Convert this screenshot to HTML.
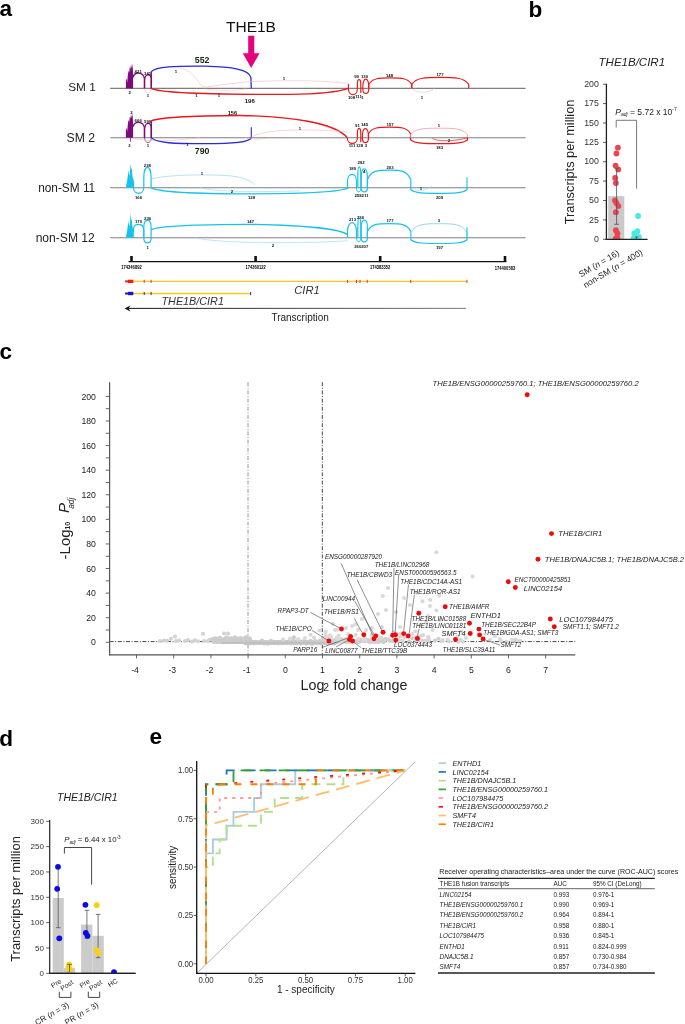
<!DOCTYPE html>
<html><head><meta charset="utf-8"><title>Figure</title><style>
html,body{margin:0;padding:0;background:#fff;}
svg{display:block;will-change:transform;}
text{font-family:"Liberation Sans",sans-serif;}
</style></head><body>
<svg width="685" height="1024" viewBox="0 0 685 1024">
<rect width="685" height="1024" fill="#fff"/>
<text x="-0.4" y="16.4" font-size="22.6" font-weight="bold" fill="#000">a</text>
<text x="528.6" y="16.5" font-size="22.6" font-weight="bold" fill="#000">b</text>
<text x="-0.6" y="358.7" font-size="22.6" font-weight="bold" fill="#000">c</text>
<text x="-0.7" y="745.6" font-size="22.6" font-weight="bold" fill="#000">d</text>
<text x="149.6" y="743.5" font-size="22.6" font-weight="bold" fill="#000">e</text>
<text x="226.0" y="31.8" font-size="15.5" fill="#111">THE1B</text>
<polygon points="248.2,35.8 254.3,35.8 254.3,53.3 259.6,53.3 251.2,67.9 242.8,53.3 248.2,53.3" fill="#e2057d"/>
<text x="95.8" y="91.3" font-size="11.8" text-anchor="end" fill="#222">SM 1</text>
<text x="95.0" y="142.3" font-size="12.2" text-anchor="end" fill="#222">SM 2</text>
<text x="95.2" y="191.5" font-size="11.85" text-anchor="end" fill="#222">non-SM 11</text>
<text x="94.8" y="242.3" font-size="12.1" text-anchor="end" fill="#222">non-SM 12</text>
<line x1="110.2" y1="88.4" x2="525.6" y2="88.4" stroke="#7f7f7f" stroke-width="1.1"/>
<line x1="110.2" y1="137.7" x2="525.6" y2="137.7" stroke="#7f7f7f" stroke-width="1.1"/>
<line x1="110.2" y1="187.8" x2="525.6" y2="187.8" stroke="#7f7f7f" stroke-width="1.1"/>
<line x1="110.2" y1="237.7" x2="525.6" y2="237.7" stroke="#7f7f7f" stroke-width="1.1"/>
<polygon points="125.9,88.4 125.9,80.4 126.5,78.4 127.2,82.4 127.8,75.4 128.6,70.4 129.3,72.4 129.8,66.4 130.4,69.4 131.0,63.9 131.8,68.4 132.4,63.2 132.9,70.4 133.1,76.4 133.1,88.4" fill="#7d0a7d"/>
<path d="M133.1,77.4 C134.3,71.4 143.2,71.4 144.4,78.4 L144.4,88.4" stroke="#7d0a7d" stroke-width="1.3" fill="none"/>
<path d="M144.6,88.4 L144.6,79.4 C145.4,73.4 150.5,73.4 151.3,78.4 L151.3,88.4" stroke="#7d0a7d" stroke-width="1.3" fill="none"/>
<path d="M144.6,88.4 C144.6,94.4 151.3,94.4 151.3,88.4" stroke="#f7b9b9" stroke-width="0.6" fill="none"/>
<line x1="151.3" y1="71.2" x2="151.3" y2="88.4" stroke="#7d0a7d" stroke-width="1.3"/>
<path d="M151.3,71.60000000000001 C156,66.4 175,66.0 205,66.2 C232,66.9 249,69.4 250.9,77.4 L251.3,88.4" stroke="#2a2ad8" stroke-width="1.3" fill="none"/>
<path d="M151.3,88.4 C160,93.4 230,94.60000000000001 290,94.4 C320,94.0 340,91.4 348.4,88.4" stroke="#e8191c" stroke-width="1.3" fill="none"/>
<path d="M178,67.9 C190,68.4 196,78.4 201,85.4 C203,87.4 206,87.2 210,86.4 C225,84.4 240,82.4 251,81.60000000000001 C280,80.4 320,79.9 348.4,83.4" stroke="#f7b9b9" stroke-width="0.6" fill="none"/>
<path d="M205,88.9 C215,90.9 235,90.9 246,88.9" stroke="#f7b9b9" stroke-width="0.5" fill="none"/>
<line x1="348.4" y1="88.4" x2="348.4" y2="83.9" stroke="#e8191c" stroke-width="1.1"/>
<path d="M348.4,88.4 C348.4,96.60000000000001 357.4,96.60000000000001 357.4,88.4" stroke="#e8191c" stroke-width="1.2" fill="none"/>
<path d="M357.4,88.4 L357.4,84.4 C357.4,77.9 360.8,77.9 360.8,84.4 L360.8,92.9" stroke="#e8191c" stroke-width="1.2" fill="none"/>
<path d="M362.8,88.4 C362.8,75.9 368.8,75.9 368.8,88.4 C368.8,95.10000000000001 362.8,95.10000000000001 362.8,88.4" stroke="#e8191c" stroke-width="1.2" fill="none"/>
<path d="M368.8,88.4 L368.8,84.4 C372.2,77.9 379.5,77.9 390.2,77.9 C401.0,77.9 408.3,77.9 411.7,84.4 L411.7,88.4" stroke="#e8191c" stroke-width="1.2" fill="none"/>
<path d="M411.7,88.4 L411.7,84.4 C416.3,77.4 425.9,77.4 440.2,77.4 C454.4,77.4 464.1,77.4 468.7,84.4 L468.7,88.4" stroke="#e8191c" stroke-width="1.2" fill="none"/>
<path d="M411.7,88.4 C414,93.4 430,93.4 434,88.4" stroke="#f7b9b9" stroke-width="0.6" fill="none"/>
<text x="138.2" y="72.60000000000001" font-size="4.3" text-anchor="middle" fill="#111" font-weight="bold">421</text>
<text x="147.6" y="74.60000000000001" font-size="4.3" text-anchor="middle" fill="#111" font-weight="bold">341</text>
<text x="129.8" y="93.9" font-size="4.3" text-anchor="middle" fill="#111" font-weight="bold">2</text>
<text x="148" y="97.10000000000001" font-size="4.3" text-anchor="middle" fill="#111" font-weight="bold">1</text>
<text x="194.8" y="63.4" font-size="8.8" font-weight="bold" fill="#142414">552</text>
<text x="249.8" y="102.60000000000001" font-size="6" text-anchor="middle" fill="#111" font-weight="bold">196</text>
<text x="176" y="72.60000000000001" font-size="4.3" text-anchor="middle" fill="#111" font-weight="bold">1</text>
<text x="284" y="79.60000000000001" font-size="4.3" text-anchor="middle" fill="#111" font-weight="bold">1</text>
<text x="196.5" y="97.10000000000001" font-size="4.3" text-anchor="middle" fill="#111" font-weight="bold">1</text>
<text x="219" y="97.10000000000001" font-size="4.3" text-anchor="middle" fill="#111" font-weight="bold">1</text>
<text x="356.6" y="78.10000000000001" font-size="4.3" text-anchor="middle" fill="#111" font-weight="bold">99</text>
<text x="364.5" y="77.60000000000001" font-size="4.3" text-anchor="middle" fill="#111" font-weight="bold">130</text>
<text x="351.5" y="98.60000000000001" font-size="4.3" text-anchor="middle" fill="#111" font-weight="bold">108</text>
<text x="358.5" y="98.10000000000001" font-size="4.3" text-anchor="middle" fill="#111" font-weight="bold">111</text>
<text x="362.5" y="98.60000000000001" font-size="4.3" text-anchor="middle" fill="#111" font-weight="bold">1</text>
<text x="389.5" y="77.10000000000001" font-size="4.3" text-anchor="middle" fill="#111" font-weight="bold">148</text>
<text x="440" y="76.10000000000001" font-size="4.3" text-anchor="middle" fill="#111" font-weight="bold">177</text>
<text x="422" y="98.60000000000001" font-size="4.3" text-anchor="middle" fill="#111" font-weight="bold">1</text>
<polygon points="125.9,137.7 125.9,129.7 126.5,127.7 127.2,131.7 127.8,124.7 128.6,119.7 129.3,121.7 129.8,116.7 130.4,118.7 131.0,114.2 131.8,117.7 132.4,113.2 132.9,119.7 133.1,125.7 133.1,137.7" fill="#7d0a7d"/>
<line x1="130.5" y1="137.7" x2="130.5" y2="141.7" stroke="#7d0a7d" stroke-width="0.8"/>
<path d="M133.1,126.69999999999999 C134.3,120.69999999999999 143.2,120.69999999999999 144.4,127.69999999999999 L144.4,137.7" stroke="#7d0a7d" stroke-width="1.3" fill="none"/>
<path d="M144.6,137.7 L144.6,128.7 C145.4,121.69999999999999 150.5,121.69999999999999 151.3,127.69999999999999 L151.3,137.7" stroke="#7d0a7d" stroke-width="1.3" fill="none"/>
<path d="M144.6,137.7 C144.6,144.2 151.3,144.2 151.3,137.7" stroke="#7d0a7d" stroke-width="0.7" fill="none"/>
<path d="M133.1,137.7 C140,141.7 170,141.7 200,137.7" stroke="#f7b9b9" stroke-width="0.6" fill="none"/>
<line x1="151.3" y1="120.49999999999999" x2="151.3" y2="137.7" stroke="#7d0a7d" stroke-width="1.3"/>
<path d="M151.3,120.89999999999999 C160,116.89999999999999 200,115.69999999999999 240,115.49999999999999 C290,116.19999999999999 335,122.69999999999999 347.3,137.7" stroke="#e8191c" stroke-width="1.3" fill="none"/>
<path d="M151.3,137.7 C156,143.2 175,143.7 205,143.7 C235,143.7 249,142.2 251.3,137.7" stroke="#2a2ad8" stroke-width="1.3" fill="none"/>
<line x1="251.3" y1="137.7" x2="251.3" y2="127.19999999999999" stroke="#2a2ad8" stroke-width="1.1"/>
<path d="M251.3,137.7 C260,129.7 300,128.2 347.3,131.7" stroke="#f7b9b9" stroke-width="0.6" fill="none"/>
<path d="M245,137.7 C252,139.7 260,139.7 270,137.7" stroke="#f7b9b9" stroke-width="0.5" fill="none"/>
<path d="M347.3,137.7 C347.3,145.39999999999998 357.4,145.39999999999998 357.4,137.7" stroke="#e8191c" stroke-width="1.2" fill="none"/>
<path d="M357.4,137.7 L357.4,133.7 C357.4,126.69999999999999 360.8,126.69999999999999 360.8,133.7 L360.8,142.2" stroke="#e8191c" stroke-width="1.2" fill="none"/>
<path d="M362.3,137.7 C362.3,125.69999999999999 368.5,125.69999999999999 368.5,137.7 C368.5,144.2 362.3,144.2 362.3,137.7" stroke="#e8191c" stroke-width="1.2" fill="none"/>
<path d="M368.5,137.7 L368.5,133.7 C371.9,127.2 379.0,127.2 389.5,127.2 C400.0,127.2 407.1,127.2 410.5,133.7 L410.5,137.7" stroke="#e8191c" stroke-width="1.2" fill="none"/>
<path d="M410.5,137.7 L410.5,134.7 C415.1,128.2 424.8,128.2 439.0,128.2 C453.2,128.2 462.9,128.2 467.5,134.7 L467.5,137.7" stroke="#f19a9a" stroke-width="0.8" fill="none"/>
<path d="M410.5,137.7 L410.5,139.7 C415.1,143.7 424.8,143.7 439.0,143.7 C453.2,143.7 462.9,143.7 467.5,139.7 L467.5,137.7" stroke="#e8191c" stroke-width="1.2" fill="none"/>
<path d="M432,137.7 C434,141.7 455,141.7 467.5,137.7" stroke="#e8191c" stroke-width="0.7" fill="none"/>
<text x="138.2" y="122.1" font-size="4.3" text-anchor="middle" fill="#111" font-weight="bold">666</text>
<text x="147.6" y="122.89999999999999" font-size="4.3" text-anchor="middle" fill="#111" font-weight="bold">590</text>
<text x="131.5" y="113.89999999999999" font-size="4.3" text-anchor="middle" fill="#111" font-weight="bold">2</text>
<text x="129.5" y="146.89999999999998" font-size="4.3" text-anchor="middle" fill="#111" font-weight="bold">2</text>
<text x="148" y="147.39999999999998" font-size="4.3" text-anchor="middle" fill="#111" font-weight="bold">1</text>
<text x="194.8" y="153.9" font-size="8.8" font-weight="bold" fill="#142414">790</text>
<text x="232.4" y="114.60000000000001" font-size="5.5" text-anchor="middle" fill="#111" font-weight="bold">156</text>
<text x="187.5" y="145.89999999999998" font-size="4.3" text-anchor="middle" fill="#111" font-weight="bold">1</text>
<text x="300" y="129.89999999999998" font-size="4.3" text-anchor="middle" fill="#111" font-weight="bold">1</text>
<text x="357.5" y="127.39999999999999" font-size="4.3" text-anchor="middle" fill="#111" font-weight="bold">91</text>
<text x="364.5" y="126.39999999999999" font-size="4.3" text-anchor="middle" fill="#111" font-weight="bold">145</text>
<text x="352" y="147.39999999999998" font-size="4.3" text-anchor="middle" fill="#111" font-weight="bold">111</text>
<text x="359.5" y="147.39999999999998" font-size="4.3" text-anchor="middle" fill="#111" font-weight="bold">128</text>
<text x="366" y="147.39999999999998" font-size="4.3" text-anchor="middle" fill="#111" font-weight="bold">3</text>
<text x="390" y="126.39999999999999" font-size="4.3" text-anchor="middle" fill="#111" font-weight="bold">157</text>
<text x="439" y="127.39999999999999" font-size="4.3" text-anchor="middle" fill="#111" font-weight="bold">1</text>
<text x="439.5" y="148.89999999999998" font-size="4.3" text-anchor="middle" fill="#111" font-weight="bold">183</text>
<text x="449" y="142.39999999999998" font-size="4.3" text-anchor="middle" fill="#111" font-weight="bold">2</text>
<polygon points="126.1,187.8 126.1,185.8 127.0,181.8 127.8,175.8 128.5,170.3 129.2,175.8 129.8,173.8 130.6,163.3 131.2,169.8 131.8,167.8 132.4,175.8 133.0,178.3 133.8,180.8 133.8,187.8" fill="#17c3ee"/>
<path d="M133.5,181.8 L133.5,187.8 C133.5,195.10000000000002 143.8,195.10000000000002 143.8,187.8" stroke="#17c3ee" stroke-width="1.2" fill="none"/>
<path d="M143.8,187.8 L143.8,177.8 C143.8,163.8 151.1,163.8 151.1,177.8 L151.1,187.8" stroke="#17c3ee" stroke-width="1.2" fill="none"/>
<path d="M151.5,179.3 C160,175.3 200,173.8 230,175.8 C245,177.3 252,181.8 254.5,184.8" stroke="#9fdcf2" stroke-width="0.8" fill="none"/>
<path d="M151.1,187.8 C160,192.3 200,193.8 250,193.8 C300,193.8 340,192.8 348.5,187.8" stroke="#17c3ee" stroke-width="1.3" fill="none"/>
<path d="M200,187.8 C215,191.8 260,192.3 300,190.8" stroke="#9fdcf2" stroke-width="0.7" fill="none"/>
<path d="M347.5,187.8 L347.5,181.8 C347.5,171.8 356.5,171.8 356.5,181.8 L356.5,187.8" stroke="#17c3ee" stroke-width="1.2" fill="none"/>
<path d="M357.8,187.8 L357.8,175.8 C357.8,163.8 360.8,163.8 360.8,175.8 L360.8,187.8" stroke="#17c3ee" stroke-width="1.2" fill="none"/>
<path d="M361.2,187.8 L361.2,177.8 C361.2,165.8 367.4,165.8 367.4,177.8 L367.4,187.8 C367.4,193.3 361.2,193.3 361.2,187.8" stroke="#17c3ee" stroke-width="1.2" fill="none"/>
<path d="M356.5,187.8 C356.5,193.3 360.8,193.3 360.8,187.8" stroke="#17c3ee" stroke-width="1.0" fill="none"/>
<path d="M367.4,187.8 L367.4,179.8 C370.9,170.2 378.2,170.2 389.1,170.2 C399.9,170.2 407.3,170.2 410.8,179.8 L410.8,187.8" stroke="#17c3ee" stroke-width="1.2" fill="none"/>
<path d="M410.8,187.8 L410.8,189.8 C415.3,193.4 424.9,193.4 438.9,193.4 C452.9,193.4 462.5,193.4 467,189.8 L467,187.8" stroke="#17c3ee" stroke-width="1.2" fill="none"/>
<line x1="467" y1="187.8" x2="467" y2="177.3" stroke="#17c3ee" stroke-width="1.1"/>
<path d="M415,189.8 C420,191.8 428,189.8 432,185.8" stroke="#9fdcf2" stroke-width="0.6" fill="none"/>
<text x="138.5" y="198.5" font-size="4.3" text-anchor="middle" fill="#111" font-weight="bold">166</text>
<text x="147.4" y="166.5" font-size="4.3" text-anchor="middle" fill="#111" font-weight="bold">238</text>
<text x="202" y="175.0" font-size="4.3" text-anchor="middle" fill="#111" font-weight="bold">1</text>
<text x="232" y="193.0" font-size="4.3" text-anchor="middle" fill="#111" font-weight="bold">2</text>
<text x="251.5" y="199.0" font-size="4.3" text-anchor="middle" fill="#111" font-weight="bold">128</text>
<text x="352.5" y="169.5" font-size="4.3" text-anchor="middle" fill="#111" font-weight="bold">189</text>
<text x="361" y="163.5" font-size="4.3" text-anchor="middle" fill="#111" font-weight="bold">292</text>
<text x="364.3" y="172.5" font-size="4.3" text-anchor="middle" fill="#111" font-weight="bold">4</text>
<text x="358" y="197.0" font-size="4.3" text-anchor="middle" fill="#111" font-weight="bold">258</text>
<text x="365" y="197.0" font-size="4.3" text-anchor="middle" fill="#111" font-weight="bold">211</text>
<text x="390" y="169.0" font-size="4.3" text-anchor="middle" fill="#111" font-weight="bold">203</text>
<text x="421" y="189.5" font-size="4.3" text-anchor="middle" fill="#111" font-weight="bold">1</text>
<text x="439.5" y="199.0" font-size="4.3" text-anchor="middle" fill="#111" font-weight="bold">209</text>
<polygon points="126.1,237.7 126.1,235.7 127.0,231.7 127.8,225.7 128.5,220.7 129.2,226.7 129.8,224.7 130.6,213.2 131.2,220.7 131.8,218.7 132.4,226.7 133.0,228.7 133.8,231.7 133.8,237.7" fill="#17c3ee"/>
<path d="M133.5,231.7 L133.5,228.7 C134,222.7 143.3,222.7 143.8,229.7 L143.8,237.7" stroke="#17c3ee" stroke-width="1.2" fill="none"/>
<path d="M143.8,237.7 L143.8,227.7 C143.8,217.7 151.1,217.7 151.1,227.7 L151.1,237.7 C151.1,244.7 143.8,244.7 143.8,237.7" stroke="#17c3ee" stroke-width="1.2" fill="none"/>
<path d="M151.1,229.7 C160,225.7 200,224.5 250,224.39999999999998 C300,225.2 340,228.7 347.5,234.7" stroke="#17c3ee" stroke-width="1.3" fill="none"/>
<path d="M195,237.7 C215,243.2 300,244.2 347.5,240.7" stroke="#9fdcf2" stroke-width="0.7" fill="none"/>
<path d="M347.5,237.7 L347.5,231.7 C347.5,219.7 356.5,219.7 356.5,231.7 L356.5,237.7" stroke="#17c3ee" stroke-width="1.2" fill="none"/>
<path d="M357.8,237.7 L357.8,227.7 C357.8,214.7 360.8,214.7 360.8,227.7 L360.8,237.7" stroke="#17c3ee" stroke-width="1.2" fill="none"/>
<path d="M361.2,237.7 L361.2,227.7 C361.2,217.7 367.4,217.7 367.4,227.7 L367.4,237.7 C367.4,243.2 361.2,243.2 361.2,237.7" stroke="#17c3ee" stroke-width="1.2" fill="none"/>
<path d="M356.5,237.7 C356.5,243.2 360.8,243.2 360.8,237.7" stroke="#17c3ee" stroke-width="1.0" fill="none"/>
<path d="M367.4,237.7 L367.4,231.7 C370.9,223.7 378.2,223.7 389.1,223.7 C399.9,223.7 407.3,223.7 410.8,231.7 L410.8,237.7" stroke="#17c3ee" stroke-width="1.2" fill="none"/>
<path d="M410.8,237.7 L410.8,232.7 C415.3,223.7 424.9,223.7 438.9,223.7 C452.9,223.7 462.5,223.7 467,232.7 L467,237.7" stroke="#86d3ee" stroke-width="0.9" fill="none"/>
<path d="M410.8,237.7 L410.8,239.7 C415.3,243.5 424.9,243.5 438.9,243.5 C452.9,243.5 462.5,243.5 467,239.7 L467,237.7" stroke="#17c3ee" stroke-width="1.2" fill="none"/>
<line x1="467" y1="237.7" x2="467" y2="227.2" stroke="#17c3ee" stroke-width="1.1"/>
<text x="138.5" y="222.89999999999998" font-size="4.3" text-anchor="middle" fill="#111" font-weight="bold">170</text>
<text x="147.6" y="219.89999999999998" font-size="4.3" text-anchor="middle" fill="#111" font-weight="bold">236</text>
<text x="147.6" y="248.89999999999998" font-size="4.3" text-anchor="middle" fill="#111" font-weight="bold">1</text>
<text x="250.5" y="222.89999999999998" font-size="4.3" text-anchor="middle" fill="#111" font-weight="bold">147</text>
<text x="273" y="246.89999999999998" font-size="4.3" text-anchor="middle" fill="#111" font-weight="bold">2</text>
<text x="352.5" y="220.89999999999998" font-size="4.3" text-anchor="middle" fill="#111" font-weight="bold">213</text>
<text x="360.5" y="219.39999999999998" font-size="4.3" text-anchor="middle" fill="#111" font-weight="bold">236</text>
<text x="357.8" y="247.89999999999998" font-size="4.3" text-anchor="middle" fill="#111" font-weight="bold">260</text>
<text x="364.8" y="247.89999999999998" font-size="4.3" text-anchor="middle" fill="#111" font-weight="bold">207</text>
<text x="390" y="222.39999999999998" font-size="4.3" text-anchor="middle" fill="#111" font-weight="bold">177</text>
<text x="439" y="221.89999999999998" font-size="4.3" text-anchor="middle" fill="#111" font-weight="bold">3</text>
<text x="439.5" y="248.89999999999998" font-size="4.3" text-anchor="middle" fill="#111" font-weight="bold">197</text>
<line x1="128.5" y1="261.7" x2="506.4" y2="261.7" stroke="#111" stroke-width="1.2"/>
<rect x="130.2" y="256" width="2.6" height="5.7" fill="#111"/>
<text x="131.5" y="269.0" font-size="4.9" text-anchor="middle" fill="#000" font-weight="bold" textLength="20.3" lengthAdjust="spacingAndGlyphs">174346892</text>
<rect x="254.29999999999998" y="256" width="2.6" height="5.7" fill="#111"/>
<text x="255.6" y="269.0" font-size="4.9" text-anchor="middle" fill="#000" font-weight="bold" textLength="20.3" lengthAdjust="spacingAndGlyphs">174360122</text>
<rect x="378.9" y="256" width="2.6" height="5.7" fill="#111"/>
<text x="380.2" y="268.7" font-size="4.9" text-anchor="middle" fill="#000" font-weight="bold" textLength="20.3" lengthAdjust="spacingAndGlyphs">174383352</text>
<rect x="503.7" y="256" width="2.6" height="5.7" fill="#111"/>
<text x="505" y="270.0" font-size="4.9" text-anchor="middle" fill="#000" font-weight="bold" textLength="20.3" lengthAdjust="spacingAndGlyphs">174400583</text>
<line x1="133" y1="281.4" x2="467" y2="281.4" stroke="#f7c81e" stroke-width="1.3"/>
<rect x="125.1" y="280.4" width="3.2" height="2" fill="#ee1c1c"/><rect x="128" y="279.7" width="5.3" height="3.4" fill="#ee1c1c"/>
<rect x="143.75" y="279.8" width="0.9" height="3.2" fill="#ee1c1c"/>
<rect x="150.65" y="279.8" width="0.9" height="3.2" fill="#ee1c1c"/>
<rect x="347.15000000000003" y="279.8" width="0.9" height="3.2" fill="#ee1c1c"/>
<rect x="355.95" y="279.8" width="0.9" height="3.2" fill="#ee1c1c"/>
<rect x="359.55" y="279.8" width="0.9" height="3.2" fill="#ee1c1c"/>
<rect x="366.75" y="279.8" width="0.9" height="3.2" fill="#ee1c1c"/>
<rect x="410.25" y="279.8" width="0.9" height="3.2" fill="#ee1c1c"/>
<rect x="466.55" y="279.8" width="0.9" height="3.2" fill="#ee1c1c"/>
<line x1="133" y1="293.5" x2="250.7" y2="293.5" stroke="#f7c81e" stroke-width="1.3"/>
<rect x="125.1" y="292.5" width="3.2" height="2" fill="#1515c8"/><rect x="128" y="291.8" width="5.3" height="3.4" fill="#1515c8"/>
<rect x="143.75" y="291.9" width="0.9" height="3.2" fill="#1515c8"/>
<rect x="150.65" y="291.9" width="0.9" height="3.2" fill="#1515c8"/>
<rect x="250.25" y="291.9" width="0.9" height="3.2" fill="#1515c8"/>
<text x="294.2" y="294.0" font-size="11.2" font-style="italic" fill="#333">CIR1</text>
<text x="161.5" y="305.2" font-size="10.8" font-style="italic" fill="#333">THE1B/CIR1</text>
<defs><linearGradient id="ag" x1="0" x2="1" y1="0" y2="0"><stop offset="0" stop-color="#2a2424"/><stop offset="1" stop-color="#8a8686"/></linearGradient></defs><rect x="127" y="307.85" width="339.2" height="1.1" fill="url(#ag)"/>
<polygon points="124.6,308.4 130.3,305.4 128.7,308.4 130.3,311.4" fill="#1a1515"/>
<text x="271.4" y="321.4" font-size="10" fill="#222">Transcription</text>
<text x="598.6" y="66.0" font-size="11.5" font-style="italic" fill="#222">THE1B/CIR1</text>
<rect x="608.2" y="196.1" width="16.1" height="43.2" fill="#c9c9c9"/>
<line x1="603" y1="239.3" x2="606.4" y2="239.3" stroke="#333" stroke-width="0.8"/>
<text x="598.9" y="241.9" font-size="8.8" text-anchor="end" fill="#333">0</text>
<line x1="603" y1="219.91250000000002" x2="606.4" y2="219.91250000000002" stroke="#333" stroke-width="0.8"/>
<text x="598.9" y="222.51250000000002" font-size="8.8" text-anchor="end" fill="#333">25</text>
<line x1="603" y1="200.525" x2="606.4" y2="200.525" stroke="#333" stroke-width="0.8"/>
<text x="598.9" y="203.125" font-size="8.8" text-anchor="end" fill="#333">50</text>
<line x1="603" y1="181.13750000000002" x2="606.4" y2="181.13750000000002" stroke="#333" stroke-width="0.8"/>
<text x="598.9" y="183.7375" font-size="8.8" text-anchor="end" fill="#333">75</text>
<line x1="603" y1="161.75" x2="606.4" y2="161.75" stroke="#333" stroke-width="0.8"/>
<text x="598.9" y="164.35" font-size="8.8" text-anchor="end" fill="#333">100</text>
<line x1="603" y1="142.3625" x2="606.4" y2="142.3625" stroke="#333" stroke-width="0.8"/>
<text x="598.9" y="144.9625" font-size="8.8" text-anchor="end" fill="#333">125</text>
<line x1="603" y1="122.97500000000002" x2="606.4" y2="122.97500000000002" stroke="#333" stroke-width="0.8"/>
<text x="598.9" y="125.57500000000002" font-size="8.8" text-anchor="end" fill="#333">150</text>
<line x1="603" y1="103.5875" x2="606.4" y2="103.5875" stroke="#333" stroke-width="0.8"/>
<text x="598.9" y="106.1875" font-size="8.8" text-anchor="end" fill="#333">175</text>
<line x1="603" y1="84.20000000000002" x2="606.4" y2="84.20000000000002" stroke="#333" stroke-width="0.8"/>
<text x="598.9" y="86.80000000000001" font-size="8.8" text-anchor="end" fill="#333">200</text>
<text transform="translate(574.1,161.9) rotate(-90)" text-anchor="middle" font-size="12.8" fill="#222">Transcripts per million</text>
<defs><clipPath id="cpb"><rect x="600" y="80" width="60" height="159.3"/></clipPath></defs><g clip-path="url(#cpb)">
<circle cx="617.9" cy="147.7" r="2.9" fill="#ee4450"/>
<circle cx="616.4" cy="153.5" r="2.9" fill="#ee4450"/>
<circle cx="615.6" cy="165.6" r="2.9" fill="#ee4450"/>
<circle cx="618.2" cy="169.4" r="2.9" fill="#ee4450"/>
<circle cx="615.2" cy="177.9" r="2.9" fill="#ee4450"/>
<circle cx="615.9" cy="183.0" r="2.9" fill="#ee4450"/>
<circle cx="614.9" cy="200.5" r="2.9" fill="#ee4450"/>
<circle cx="616.4" cy="203.0" r="2.9" fill="#ee4450"/>
<circle cx="618.4" cy="206.1" r="2.9" fill="#ee4450"/>
<circle cx="615.9" cy="212.2" r="2.9" fill="#ee4450"/>
<circle cx="615.9" cy="230.2" r="2.9" fill="#ee4450"/>
<circle cx="617.4" cy="233.4" r="2.9" fill="#ee4450"/>
<circle cx="616.9" cy="237.3" r="2.9" fill="#ee4450"/>
<circle cx="615.5" cy="238.8" r="2.9" fill="#ee4450"/>
<circle cx="617.5" cy="239.0" r="2.9" fill="#ee4450"/>
<circle cx="638.1" cy="216.0" r="2.9" fill="#46eae3"/>
<circle cx="637.4" cy="231.2" r="2.9" fill="#46eae3"/>
<circle cx="634.3" cy="233.4" r="2.9" fill="#46eae3"/>
<circle cx="638.9" cy="236.8" r="2.9" fill="#46eae3"/>
<circle cx="635.9" cy="237.3" r="2.9" fill="#46eae3"/>
<circle cx="633.5" cy="238.5" r="2.9" fill="#46eae3"/>
<circle cx="637.0" cy="238.8" r="2.9" fill="#46eae3"/>
</g>
<line x1="606.4" y1="83.8" x2="606.4" y2="239.9" stroke="#222" stroke-width="1.3"/>
<line x1="605.8" y1="239.3" x2="647.6" y2="239.3" stroke="#222" stroke-width="1.3"/>
<line x1="636.5" y1="237.0" x2="636.5" y2="239.3" stroke="#555" stroke-width="0.85"/>
<line x1="634.8" y1="237.0" x2="638.2" y2="237.0" stroke="#555" stroke-width="0.85"/>
<line x1="616.6" y1="168.2" x2="616.6" y2="224.3" stroke="#555" stroke-width="0.85"/>
<line x1="614.3" y1="168.2" x2="618.9" y2="168.2" stroke="#555" stroke-width="0.85"/>
<line x1="614.3" y1="224.3" x2="618.9" y2="224.3" stroke="#555" stroke-width="0.85"/>
<path d="M616.2,127.6 L616.2,120.3 L636.6,120.3 L636.6,188.7" stroke="#6b6b6b" stroke-width="0.9" fill="none"/>
<text x="615.3" y="114.8" font-size="8.5" fill="#222"><tspan font-style="italic">P</tspan><tspan font-size="5" font-style="italic" dy="1.6">adj</tspan><tspan dy="-1.6"> = 5.72 x 10</tspan><tspan font-size="5" dy="-3.8">-7</tspan></text>
<text transform="translate(619.9,254.6) rotate(-30.5)" text-anchor="end" font-size="8.6" fill="#222">SM (<tspan font-style="italic">n</tspan> = 16)</text>
<text transform="translate(643.3,254.1) rotate(-30.5)" text-anchor="end" font-size="8.6" fill="#222">non-SM (<tspan font-style="italic">n</tspan> = 400)</text>
<line x1="248.0" y1="382.2" x2="248.0" y2="654.8" stroke="#8a8a8a" stroke-width="0.9" stroke-dasharray="4,1.6,1,1.6"/>
<line x1="322.3" y1="382.2" x2="322.3" y2="654.8" stroke="#333" stroke-width="0.9" stroke-dasharray="4,1.6,1,1.6"/>
<line x1="109.6" y1="641.6" x2="575.3" y2="641.6" stroke="#333" stroke-width="0.9" stroke-dasharray="4,1.6,1,1.6"/>
<circle cx="160.0" cy="641.0" r="2.05" fill="#d2d2d2"/>
<circle cx="164.0" cy="640.5" r="2.05" fill="#d2d2d2"/>
<circle cx="167.0" cy="640.8" r="2.05" fill="#d2d2d2"/>
<circle cx="171.0" cy="638.8" r="2.05" fill="#d2d2d2"/>
<circle cx="175.0" cy="636.5" r="2.05" fill="#d2d2d2"/>
<circle cx="176.0" cy="641.0" r="2.05" fill="#d2d2d2"/>
<circle cx="179.0" cy="640.2" r="2.05" fill="#d2d2d2"/>
<circle cx="185.0" cy="641.0" r="2.05" fill="#d2d2d2"/>
<circle cx="188.0" cy="640.0" r="2.05" fill="#d2d2d2"/>
<circle cx="192.0" cy="641.5" r="2.05" fill="#d2d2d2"/>
<circle cx="195.0" cy="640.2" r="2.05" fill="#d2d2d2"/>
<circle cx="198.0" cy="641.2" r="2.05" fill="#d2d2d2"/>
<circle cx="203.0" cy="633.8" r="2.05" fill="#d2d2d2"/>
<circle cx="204.0" cy="641.0" r="2.05" fill="#d2d2d2"/>
<circle cx="208.0" cy="641.0" r="2.05" fill="#d2d2d2"/>
<circle cx="210.0" cy="639.5" r="2.05" fill="#d2d2d2"/>
<circle cx="214.0" cy="640.5" r="2.05" fill="#d2d2d2"/>
<circle cx="224.0" cy="633.5" r="2.05" fill="#d2d2d2"/>
<circle cx="228.0" cy="633.6" r="2.05" fill="#d2d2d2"/>
<circle cx="229.2" cy="638.2" r="2.05" fill="#cccccc"/>
<circle cx="229.7" cy="640.5" r="2.05" fill="#cccccc"/>
<circle cx="231.3" cy="641.0" r="2.05" fill="#cccccc"/>
<circle cx="231.5" cy="641.4" r="2.05" fill="#cccccc"/>
<circle cx="235.9" cy="641.8" r="2.05" fill="#cccccc"/>
<circle cx="223.5" cy="641.2" r="2.05" fill="#cccccc"/>
<circle cx="215.4" cy="641.0" r="2.05" fill="#cccccc"/>
<circle cx="213.6" cy="639.4" r="2.05" fill="#cccccc"/>
<circle cx="249.3" cy="639.4" r="2.05" fill="#cccccc"/>
<circle cx="235.4" cy="641.4" r="2.05" fill="#cccccc"/>
<circle cx="218.0" cy="639.8" r="2.05" fill="#cccccc"/>
<circle cx="214.3" cy="641.8" r="2.05" fill="#cccccc"/>
<circle cx="219.2" cy="642.0" r="2.05" fill="#cccccc"/>
<circle cx="229.6" cy="641.6" r="2.05" fill="#cccccc"/>
<circle cx="228.7" cy="640.8" r="2.05" fill="#cccccc"/>
<circle cx="236.3" cy="640.2" r="2.05" fill="#cccccc"/>
<circle cx="231.0" cy="641.0" r="2.05" fill="#cccccc"/>
<circle cx="222.6" cy="640.3" r="2.05" fill="#cccccc"/>
<circle cx="249.9" cy="638.6" r="2.05" fill="#cccccc"/>
<circle cx="238.9" cy="641.9" r="2.05" fill="#cccccc"/>
<circle cx="224.0" cy="641.8" r="2.05" fill="#cccccc"/>
<circle cx="214.7" cy="640.5" r="2.05" fill="#cccccc"/>
<circle cx="241.1" cy="639.2" r="2.05" fill="#cccccc"/>
<circle cx="226.7" cy="640.0" r="2.05" fill="#cccccc"/>
<circle cx="248.4" cy="642.0" r="2.05" fill="#cccccc"/>
<circle cx="220.0" cy="642.0" r="2.05" fill="#cccccc"/>
<circle cx="246.6" cy="637.0" r="2.05" fill="#cccccc"/>
<circle cx="227.1" cy="641.1" r="2.05" fill="#cccccc"/>
<circle cx="214.8" cy="639.9" r="2.05" fill="#cccccc"/>
<circle cx="222.3" cy="639.7" r="2.05" fill="#cccccc"/>
<circle cx="215.3" cy="639.7" r="2.05" fill="#cccccc"/>
<circle cx="240.8" cy="638.0" r="2.05" fill="#cccccc"/>
<circle cx="216.5" cy="642.0" r="2.05" fill="#cccccc"/>
<circle cx="214.3" cy="641.2" r="2.05" fill="#cccccc"/>
<circle cx="242.3" cy="641.0" r="2.05" fill="#cccccc"/>
<circle cx="229.0" cy="639.9" r="2.05" fill="#cccccc"/>
<circle cx="219.2" cy="641.9" r="2.05" fill="#cccccc"/>
<circle cx="236.5" cy="641.1" r="2.05" fill="#cccccc"/>
<circle cx="216.4" cy="640.9" r="2.05" fill="#cccccc"/>
<circle cx="222.3" cy="641.4" r="2.05" fill="#cccccc"/>
<circle cx="248.9" cy="641.5" r="2.05" fill="#cccccc"/>
<circle cx="245.6" cy="640.6" r="2.05" fill="#cccccc"/>
<circle cx="220.0" cy="639.2" r="2.05" fill="#cccccc"/>
<circle cx="236.4" cy="639.8" r="2.05" fill="#cccccc"/>
<circle cx="215.8" cy="640.8" r="2.05" fill="#cccccc"/>
<circle cx="221.8" cy="641.9" r="2.05" fill="#cccccc"/>
<circle cx="241.4" cy="641.3" r="2.05" fill="#cccccc"/>
<circle cx="214.8" cy="640.7" r="2.05" fill="#cccccc"/>
<circle cx="215.4" cy="640.8" r="2.05" fill="#cccccc"/>
<circle cx="234.8" cy="641.3" r="2.05" fill="#cccccc"/>
<circle cx="226.1" cy="637.6" r="2.05" fill="#cccccc"/>
<circle cx="230.4" cy="640.7" r="2.05" fill="#cccccc"/>
<circle cx="233.8" cy="641.2" r="2.05" fill="#cccccc"/>
<circle cx="217.9" cy="641.1" r="2.05" fill="#cccccc"/>
<circle cx="246.5" cy="641.4" r="2.05" fill="#cccccc"/>
<circle cx="219.2" cy="640.8" r="2.05" fill="#cccccc"/>
<circle cx="240.1" cy="640.9" r="2.05" fill="#cccccc"/>
<circle cx="248.1" cy="641.6" r="2.05" fill="#cccccc"/>
<circle cx="245.5" cy="640.5" r="2.05" fill="#cccccc"/>
<circle cx="215.9" cy="640.9" r="2.05" fill="#cccccc"/>
<circle cx="213.5" cy="640.7" r="2.05" fill="#cccccc"/>
<circle cx="238.8" cy="641.7" r="2.05" fill="#cccccc"/>
<circle cx="221.8" cy="640.9" r="2.05" fill="#cccccc"/>
<circle cx="223.2" cy="639.8" r="2.05" fill="#cccccc"/>
<circle cx="218.7" cy="641.9" r="2.05" fill="#cccccc"/>
<circle cx="220.7" cy="641.3" r="2.05" fill="#cccccc"/>
<circle cx="233.3" cy="640.5" r="2.05" fill="#cccccc"/>
<circle cx="222.6" cy="640.0" r="2.05" fill="#cccccc"/>
<circle cx="246.9" cy="641.9" r="2.05" fill="#cccccc"/>
<circle cx="222.2" cy="641.7" r="2.05" fill="#cccccc"/>
<circle cx="228.9" cy="641.0" r="2.05" fill="#cccccc"/>
<circle cx="226.0" cy="641.6" r="2.05" fill="#cccccc"/>
<circle cx="233.7" cy="640.8" r="2.05" fill="#cccccc"/>
<circle cx="245.9" cy="640.7" r="2.05" fill="#cccccc"/>
<circle cx="249.3" cy="640.5" r="2.05" fill="#cccccc"/>
<circle cx="234.2" cy="639.7" r="2.05" fill="#cccccc"/>
<circle cx="217.3" cy="641.7" r="2.05" fill="#cccccc"/>
<circle cx="246.6" cy="641.9" r="2.05" fill="#cccccc"/>
<circle cx="238.6" cy="641.6" r="2.05" fill="#cccccc"/>
<circle cx="236.2" cy="641.9" r="2.05" fill="#cccccc"/>
<circle cx="230.3" cy="641.8" r="2.05" fill="#cccccc"/>
<circle cx="250.0" cy="640.4" r="2.05" fill="#cccccc"/>
<circle cx="214.9" cy="639.2" r="2.05" fill="#cccccc"/>
<circle cx="246.2" cy="641.2" r="2.05" fill="#cccccc"/>
<circle cx="240.0" cy="641.1" r="2.05" fill="#cccccc"/>
<circle cx="246.8" cy="638.9" r="2.05" fill="#cccccc"/>
<circle cx="225.4" cy="640.5" r="2.05" fill="#cccccc"/>
<circle cx="245.1" cy="638.4" r="2.05" fill="#cccccc"/>
<circle cx="227.9" cy="641.1" r="2.05" fill="#cccccc"/>
<circle cx="233.8" cy="638.5" r="2.05" fill="#cccccc"/>
<circle cx="235.7" cy="640.2" r="2.05" fill="#cccccc"/>
<circle cx="235.1" cy="640.4" r="2.05" fill="#cccccc"/>
<circle cx="215.0" cy="638.4" r="2.05" fill="#cccccc"/>
<circle cx="245.4" cy="637.6" r="2.05" fill="#cccccc"/>
<circle cx="239.7" cy="639.8" r="2.05" fill="#cccccc"/>
<circle cx="234.1" cy="640.1" r="2.05" fill="#cccccc"/>
<circle cx="228.7" cy="641.6" r="2.05" fill="#cccccc"/>
<circle cx="240.5" cy="641.4" r="2.05" fill="#cccccc"/>
<circle cx="213.1" cy="640.3" r="2.05" fill="#cccccc"/>
<circle cx="220.7" cy="640.8" r="2.05" fill="#cccccc"/>
<circle cx="238.5" cy="639.5" r="2.05" fill="#cccccc"/>
<circle cx="247.0" cy="642.0" r="2.05" fill="#cccccc"/>
<circle cx="221.7" cy="640.5" r="2.05" fill="#cccccc"/>
<circle cx="237.8" cy="641.9" r="2.05" fill="#cccccc"/>
<circle cx="219.7" cy="640.1" r="2.05" fill="#cccccc"/>
<circle cx="237.1" cy="638.6" r="2.05" fill="#cccccc"/>
<circle cx="228.8" cy="640.8" r="2.05" fill="#cccccc"/>
<circle cx="237.3" cy="641.0" r="2.05" fill="#cccccc"/>
<circle cx="219.5" cy="639.0" r="2.05" fill="#cccccc"/>
<circle cx="246.7" cy="640.6" r="2.05" fill="#cccccc"/>
<circle cx="245.5" cy="640.2" r="2.05" fill="#cccccc"/>
<circle cx="224.0" cy="640.4" r="2.05" fill="#cccccc"/>
<circle cx="217.2" cy="638.6" r="2.05" fill="#cccccc"/>
<circle cx="244.3" cy="641.9" r="2.05" fill="#cccccc"/>
<circle cx="239.0" cy="640.6" r="2.05" fill="#cccccc"/>
<circle cx="218.4" cy="641.6" r="2.05" fill="#cccccc"/>
<circle cx="229.1" cy="641.8" r="2.05" fill="#cccccc"/>
<circle cx="227.7" cy="640.8" r="2.05" fill="#cccccc"/>
<circle cx="235.8" cy="640.4" r="2.05" fill="#cccccc"/>
<circle cx="243.9" cy="641.9" r="2.05" fill="#cccccc"/>
<circle cx="249.3" cy="641.3" r="2.05" fill="#cccccc"/>
<circle cx="213.2" cy="641.8" r="2.05" fill="#cccccc"/>
<circle cx="245.2" cy="639.3" r="2.05" fill="#cccccc"/>
<circle cx="233.7" cy="641.3" r="2.05" fill="#cccccc"/>
<circle cx="223.7" cy="641.9" r="2.05" fill="#cccccc"/>
<circle cx="217.2" cy="641.7" r="2.05" fill="#cccccc"/>
<circle cx="229.3" cy="638.7" r="2.05" fill="#cccccc"/>
<circle cx="221.0" cy="641.5" r="2.05" fill="#cccccc"/>
<circle cx="217.4" cy="639.6" r="2.05" fill="#cccccc"/>
<circle cx="229.0" cy="641.3" r="2.05" fill="#cccccc"/>
<circle cx="235.9" cy="640.2" r="2.05" fill="#cccccc"/>
<circle cx="248.4" cy="639.3" r="2.05" fill="#cccccc"/>
<circle cx="238.0" cy="641.4" r="2.05" fill="#cccccc"/>
<circle cx="218.8" cy="640.1" r="2.05" fill="#cccccc"/>
<circle cx="212.4" cy="639.2" r="2.05" fill="#cccccc"/>
<circle cx="218.8" cy="641.5" r="2.05" fill="#cccccc"/>
<circle cx="222.3" cy="640.4" r="2.05" fill="#cccccc"/>
<circle cx="231.8" cy="639.7" r="2.05" fill="#cccccc"/>
<circle cx="235.3" cy="641.9" r="2.05" fill="#cccccc"/>
<circle cx="242.1" cy="640.2" r="2.05" fill="#cccccc"/>
<circle cx="246.4" cy="638.4" r="2.05" fill="#cccccc"/>
<circle cx="239.5" cy="639.8" r="2.05" fill="#cccccc"/>
<circle cx="216.9" cy="639.6" r="2.05" fill="#cccccc"/>
<circle cx="246.6" cy="641.3" r="2.05" fill="#cccccc"/>
<circle cx="226.3" cy="638.6" r="2.05" fill="#cccccc"/>
<circle cx="242.3" cy="640.4" r="2.05" fill="#cccccc"/>
<circle cx="247.9" cy="639.5" r="2.05" fill="#cccccc"/>
<circle cx="219.8" cy="641.4" r="2.05" fill="#cccccc"/>
<circle cx="239.4" cy="640.9" r="2.05" fill="#cccccc"/>
<circle cx="239.3" cy="639.7" r="2.05" fill="#cccccc"/>
<circle cx="220.1" cy="637.9" r="2.05" fill="#cccccc"/>
<circle cx="249.1" cy="639.0" r="2.05" fill="#cccccc"/>
<circle cx="232.4" cy="641.6" r="2.05" fill="#cccccc"/>
<circle cx="246.6" cy="640.5" r="2.05" fill="#cccccc"/>
<circle cx="244.5" cy="641.6" r="2.05" fill="#cccccc"/>
<circle cx="228.8" cy="641.4" r="2.05" fill="#cccccc"/>
<circle cx="232.9" cy="641.8" r="2.05" fill="#cccccc"/>
<circle cx="213.1" cy="639.9" r="2.05" fill="#cccccc"/>
<circle cx="242.7" cy="639.0" r="2.05" fill="#cccccc"/>
<circle cx="218.6" cy="640.7" r="2.05" fill="#cccccc"/>
<circle cx="224.7" cy="641.8" r="2.05" fill="#cccccc"/>
<circle cx="217.6" cy="641.0" r="2.05" fill="#cccccc"/>
<circle cx="231.6" cy="641.4" r="2.05" fill="#cccccc"/>
<circle cx="238.2" cy="638.6" r="2.05" fill="#cccccc"/>
<circle cx="247.9" cy="637.6" r="2.05" fill="#cccccc"/>
<circle cx="215.3" cy="641.8" r="2.05" fill="#cccccc"/>
<circle cx="220.4" cy="640.5" r="2.05" fill="#cccccc"/>
<circle cx="239.7" cy="641.8" r="2.05" fill="#cccccc"/>
<circle cx="236.3" cy="638.6" r="2.05" fill="#cccccc"/>
<circle cx="233.3" cy="641.5" r="2.05" fill="#cccccc"/>
<circle cx="223.8" cy="639.4" r="2.05" fill="#cccccc"/>
<circle cx="246.2" cy="639.6" r="2.05" fill="#cccccc"/>
<circle cx="219.9" cy="639.2" r="2.05" fill="#cccccc"/>
<circle cx="231.9" cy="638.2" r="2.05" fill="#cccccc"/>
<circle cx="233.8" cy="641.3" r="2.05" fill="#cccccc"/>
<circle cx="231.1" cy="639.9" r="2.05" fill="#cccccc"/>
<circle cx="235.0" cy="637.3" r="2.05" fill="#cccccc"/>
<circle cx="231.6" cy="641.2" r="2.05" fill="#cccccc"/>
<circle cx="227.2" cy="641.3" r="2.05" fill="#cccccc"/>
<circle cx="230.7" cy="639.8" r="2.05" fill="#cccccc"/>
<circle cx="238.3" cy="640.0" r="2.05" fill="#cccccc"/>
<circle cx="227.7" cy="641.1" r="2.05" fill="#cccccc"/>
<circle cx="248.4" cy="640.7" r="2.05" fill="#cccccc"/>
<circle cx="230.0" cy="641.3" r="2.05" fill="#cccccc"/>
<circle cx="216.8" cy="639.0" r="2.05" fill="#cccccc"/>
<circle cx="246.2" cy="640.7" r="2.05" fill="#cccccc"/>
<circle cx="230.1" cy="641.5" r="2.05" fill="#cccccc"/>
<circle cx="235.5" cy="640.9" r="2.05" fill="#cccccc"/>
<circle cx="247.2" cy="639.9" r="2.05" fill="#cccccc"/>
<circle cx="212.9" cy="639.7" r="2.05" fill="#cccccc"/>
<circle cx="219.4" cy="641.6" r="2.05" fill="#cccccc"/>
<circle cx="224.2" cy="639.3" r="2.05" fill="#cccccc"/>
<circle cx="225.5" cy="641.4" r="2.05" fill="#cccccc"/>
<circle cx="239.8" cy="641.4" r="2.05" fill="#cccccc"/>
<circle cx="216.7" cy="640.6" r="2.05" fill="#cccccc"/>
<circle cx="219.5" cy="641.9" r="2.05" fill="#cccccc"/>
<circle cx="232.2" cy="640.4" r="2.05" fill="#cccccc"/>
<circle cx="227.7" cy="641.3" r="2.05" fill="#cccccc"/>
<circle cx="232.1" cy="641.3" r="2.05" fill="#cccccc"/>
<circle cx="236.0" cy="641.0" r="2.05" fill="#cccccc"/>
<circle cx="302.5" cy="641.7" r="2.05" fill="#c9c9c9"/>
<circle cx="300.1" cy="642.4" r="2.05" fill="#c9c9c9"/>
<circle cx="322.1" cy="642.7" r="2.05" fill="#c9c9c9"/>
<circle cx="317.9" cy="643.3" r="2.05" fill="#c9c9c9"/>
<circle cx="326.2" cy="642.4" r="2.05" fill="#c9c9c9"/>
<circle cx="328.0" cy="643.0" r="2.05" fill="#c9c9c9"/>
<circle cx="264.6" cy="643.5" r="2.05" fill="#c9c9c9"/>
<circle cx="257.1" cy="642.6" r="2.05" fill="#c9c9c9"/>
<circle cx="266.5" cy="642.5" r="2.05" fill="#c9c9c9"/>
<circle cx="253.7" cy="642.3" r="2.05" fill="#c9c9c9"/>
<circle cx="319.9" cy="641.9" r="2.05" fill="#c9c9c9"/>
<circle cx="256.3" cy="643.0" r="2.05" fill="#c9c9c9"/>
<circle cx="281.3" cy="642.6" r="2.05" fill="#c9c9c9"/>
<circle cx="263.1" cy="642.5" r="2.05" fill="#c9c9c9"/>
<circle cx="306.4" cy="643.6" r="2.05" fill="#c9c9c9"/>
<circle cx="255.4" cy="642.0" r="2.05" fill="#c9c9c9"/>
<circle cx="290.5" cy="642.6" r="2.05" fill="#c9c9c9"/>
<circle cx="306.7" cy="642.1" r="2.05" fill="#c9c9c9"/>
<circle cx="262.0" cy="642.8" r="2.05" fill="#c9c9c9"/>
<circle cx="248.4" cy="642.7" r="2.05" fill="#c9c9c9"/>
<circle cx="294.7" cy="642.0" r="2.05" fill="#c9c9c9"/>
<circle cx="258.2" cy="642.5" r="2.05" fill="#c9c9c9"/>
<circle cx="261.6" cy="642.8" r="2.05" fill="#c9c9c9"/>
<circle cx="334.1" cy="643.4" r="2.05" fill="#c9c9c9"/>
<circle cx="328.4" cy="642.7" r="2.05" fill="#c9c9c9"/>
<circle cx="330.6" cy="642.7" r="2.05" fill="#c9c9c9"/>
<circle cx="286.6" cy="642.6" r="2.05" fill="#c9c9c9"/>
<circle cx="287.0" cy="642.2" r="2.05" fill="#c9c9c9"/>
<circle cx="291.4" cy="642.0" r="2.05" fill="#c9c9c9"/>
<circle cx="246.2" cy="642.9" r="2.05" fill="#c9c9c9"/>
<circle cx="308.1" cy="642.8" r="2.05" fill="#c9c9c9"/>
<circle cx="285.9" cy="642.4" r="2.05" fill="#c9c9c9"/>
<circle cx="311.5" cy="642.4" r="2.05" fill="#c9c9c9"/>
<circle cx="259.9" cy="642.8" r="2.05" fill="#c9c9c9"/>
<circle cx="291.1" cy="643.5" r="2.05" fill="#c9c9c9"/>
<circle cx="317.2" cy="642.7" r="2.05" fill="#c9c9c9"/>
<circle cx="308.4" cy="643.0" r="2.05" fill="#c9c9c9"/>
<circle cx="281.4" cy="642.1" r="2.05" fill="#c9c9c9"/>
<circle cx="299.0" cy="641.3" r="2.05" fill="#c9c9c9"/>
<circle cx="317.4" cy="642.6" r="2.05" fill="#c9c9c9"/>
<circle cx="268.2" cy="643.2" r="2.05" fill="#c9c9c9"/>
<circle cx="315.0" cy="642.2" r="2.05" fill="#c9c9c9"/>
<circle cx="318.3" cy="641.8" r="2.05" fill="#c9c9c9"/>
<circle cx="324.2" cy="643.1" r="2.05" fill="#c9c9c9"/>
<circle cx="307.5" cy="642.7" r="2.05" fill="#c9c9c9"/>
<circle cx="281.5" cy="641.8" r="2.05" fill="#c9c9c9"/>
<circle cx="310.0" cy="643.0" r="2.05" fill="#c9c9c9"/>
<circle cx="287.2" cy="642.8" r="2.05" fill="#c9c9c9"/>
<circle cx="246.0" cy="642.2" r="2.05" fill="#c9c9c9"/>
<circle cx="301.2" cy="643.1" r="2.05" fill="#c9c9c9"/>
<circle cx="265.9" cy="643.2" r="2.05" fill="#c9c9c9"/>
<circle cx="275.4" cy="642.4" r="2.05" fill="#c9c9c9"/>
<circle cx="304.4" cy="642.1" r="2.05" fill="#c9c9c9"/>
<circle cx="280.1" cy="642.4" r="2.05" fill="#c9c9c9"/>
<circle cx="335.0" cy="642.2" r="2.05" fill="#c9c9c9"/>
<circle cx="313.6" cy="642.1" r="2.05" fill="#c9c9c9"/>
<circle cx="333.2" cy="643.2" r="2.05" fill="#c9c9c9"/>
<circle cx="311.5" cy="642.7" r="2.05" fill="#c9c9c9"/>
<circle cx="268.1" cy="642.5" r="2.05" fill="#c9c9c9"/>
<circle cx="262.6" cy="642.7" r="2.05" fill="#c9c9c9"/>
<circle cx="278.8" cy="642.9" r="2.05" fill="#c9c9c9"/>
<circle cx="326.5" cy="642.8" r="2.05" fill="#c9c9c9"/>
<circle cx="294.5" cy="641.4" r="2.05" fill="#c9c9c9"/>
<circle cx="296.1" cy="642.5" r="2.05" fill="#c9c9c9"/>
<circle cx="334.6" cy="642.1" r="2.05" fill="#c9c9c9"/>
<circle cx="251.9" cy="642.0" r="2.05" fill="#c9c9c9"/>
<circle cx="298.8" cy="642.6" r="2.05" fill="#c9c9c9"/>
<circle cx="328.7" cy="642.5" r="2.05" fill="#c9c9c9"/>
<circle cx="259.4" cy="642.3" r="2.05" fill="#c9c9c9"/>
<circle cx="289.6" cy="642.6" r="2.05" fill="#c9c9c9"/>
<circle cx="300.0" cy="643.6" r="2.05" fill="#c9c9c9"/>
<circle cx="282.9" cy="643.0" r="2.05" fill="#c9c9c9"/>
<circle cx="292.4" cy="642.2" r="2.05" fill="#c9c9c9"/>
<circle cx="270.7" cy="642.4" r="2.05" fill="#c9c9c9"/>
<circle cx="304.0" cy="642.3" r="2.05" fill="#c9c9c9"/>
<circle cx="309.5" cy="642.5" r="2.05" fill="#c9c9c9"/>
<circle cx="271.6" cy="642.9" r="2.05" fill="#c9c9c9"/>
<circle cx="248.8" cy="642.6" r="2.05" fill="#c9c9c9"/>
<circle cx="259.1" cy="642.6" r="2.05" fill="#c9c9c9"/>
<circle cx="325.8" cy="642.2" r="2.05" fill="#c9c9c9"/>
<circle cx="312.4" cy="643.9" r="2.05" fill="#c9c9c9"/>
<circle cx="330.0" cy="643.0" r="2.05" fill="#c9c9c9"/>
<circle cx="251.6" cy="643.0" r="2.05" fill="#c9c9c9"/>
<circle cx="288.0" cy="642.3" r="2.05" fill="#c9c9c9"/>
<circle cx="332.6" cy="642.6" r="2.05" fill="#c9c9c9"/>
<circle cx="329.4" cy="643.1" r="2.05" fill="#c9c9c9"/>
<circle cx="310.0" cy="641.4" r="2.05" fill="#c9c9c9"/>
<circle cx="318.5" cy="642.8" r="2.05" fill="#c9c9c9"/>
<circle cx="299.3" cy="643.1" r="2.05" fill="#c9c9c9"/>
<circle cx="286.0" cy="643.0" r="2.05" fill="#c9c9c9"/>
<circle cx="263.3" cy="643.1" r="2.05" fill="#c9c9c9"/>
<circle cx="256.2" cy="642.8" r="2.05" fill="#c9c9c9"/>
<circle cx="284.9" cy="642.4" r="2.05" fill="#c9c9c9"/>
<circle cx="268.6" cy="642.2" r="2.05" fill="#c9c9c9"/>
<circle cx="297.4" cy="641.9" r="2.05" fill="#c9c9c9"/>
<circle cx="292.8" cy="643.0" r="2.05" fill="#c9c9c9"/>
<circle cx="334.8" cy="643.3" r="2.05" fill="#c9c9c9"/>
<circle cx="266.5" cy="642.4" r="2.05" fill="#c9c9c9"/>
<circle cx="255.2" cy="643.2" r="2.05" fill="#c9c9c9"/>
<circle cx="301.2" cy="642.1" r="2.05" fill="#c9c9c9"/>
<circle cx="277.3" cy="642.5" r="2.05" fill="#c9c9c9"/>
<circle cx="295.8" cy="643.3" r="2.05" fill="#c9c9c9"/>
<circle cx="298.3" cy="642.1" r="2.05" fill="#c9c9c9"/>
<circle cx="262.1" cy="642.0" r="2.05" fill="#c9c9c9"/>
<circle cx="267.4" cy="643.6" r="2.05" fill="#c9c9c9"/>
<circle cx="324.1" cy="642.5" r="2.05" fill="#c9c9c9"/>
<circle cx="248.6" cy="642.9" r="2.05" fill="#c9c9c9"/>
<circle cx="283.3" cy="642.7" r="2.05" fill="#c9c9c9"/>
<circle cx="301.1" cy="643.0" r="2.05" fill="#c9c9c9"/>
<circle cx="251.5" cy="642.9" r="2.05" fill="#c9c9c9"/>
<circle cx="252.8" cy="642.3" r="2.05" fill="#c9c9c9"/>
<circle cx="301.8" cy="642.1" r="2.05" fill="#c9c9c9"/>
<circle cx="278.6" cy="642.3" r="2.05" fill="#c9c9c9"/>
<circle cx="275.9" cy="642.6" r="2.05" fill="#c9c9c9"/>
<circle cx="312.0" cy="642.7" r="2.05" fill="#c9c9c9"/>
<circle cx="255.8" cy="642.4" r="2.05" fill="#c9c9c9"/>
<circle cx="317.8" cy="642.1" r="2.05" fill="#c9c9c9"/>
<circle cx="264.2" cy="642.1" r="2.05" fill="#c9c9c9"/>
<circle cx="283.2" cy="642.6" r="2.05" fill="#c9c9c9"/>
<circle cx="278.2" cy="643.4" r="2.05" fill="#c9c9c9"/>
<circle cx="303.8" cy="643.0" r="2.05" fill="#c9c9c9"/>
<circle cx="294.4" cy="642.6" r="2.05" fill="#c9c9c9"/>
<circle cx="312.1" cy="643.0" r="2.05" fill="#c9c9c9"/>
<circle cx="278.2" cy="642.4" r="2.05" fill="#c9c9c9"/>
<circle cx="253.7" cy="642.7" r="2.05" fill="#c9c9c9"/>
<circle cx="252.5" cy="642.5" r="2.05" fill="#c9c9c9"/>
<circle cx="295.8" cy="641.9" r="2.05" fill="#c9c9c9"/>
<circle cx="271.9" cy="642.7" r="2.05" fill="#c9c9c9"/>
<circle cx="314.8" cy="642.9" r="2.05" fill="#c9c9c9"/>
<circle cx="304.6" cy="642.7" r="2.05" fill="#c9c9c9"/>
<circle cx="252.4" cy="642.4" r="2.05" fill="#c9c9c9"/>
<circle cx="307.5" cy="643.3" r="2.05" fill="#c9c9c9"/>
<circle cx="270.5" cy="642.9" r="2.05" fill="#c9c9c9"/>
<circle cx="310.3" cy="642.9" r="2.05" fill="#c9c9c9"/>
<circle cx="278.0" cy="643.1" r="2.05" fill="#c9c9c9"/>
<circle cx="296.2" cy="643.1" r="2.05" fill="#c9c9c9"/>
<circle cx="327.7" cy="643.5" r="2.05" fill="#c9c9c9"/>
<circle cx="284.4" cy="642.2" r="2.05" fill="#c9c9c9"/>
<circle cx="317.3" cy="642.5" r="2.05" fill="#c9c9c9"/>
<circle cx="281.0" cy="643.0" r="2.05" fill="#c9c9c9"/>
<circle cx="329.1" cy="642.9" r="2.05" fill="#c9c9c9"/>
<circle cx="277.6" cy="642.4" r="2.05" fill="#c9c9c9"/>
<circle cx="277.9" cy="642.3" r="2.05" fill="#c9c9c9"/>
<circle cx="279.9" cy="642.9" r="2.05" fill="#c9c9c9"/>
<circle cx="262.5" cy="641.9" r="2.05" fill="#c9c9c9"/>
<circle cx="293.7" cy="642.3" r="2.05" fill="#c9c9c9"/>
<circle cx="320.3" cy="642.3" r="2.05" fill="#c9c9c9"/>
<circle cx="313.3" cy="642.5" r="2.05" fill="#c9c9c9"/>
<circle cx="324.3" cy="642.6" r="2.05" fill="#c9c9c9"/>
<circle cx="291.4" cy="642.7" r="2.05" fill="#c9c9c9"/>
<circle cx="294.0" cy="641.5" r="2.05" fill="#c9c9c9"/>
<circle cx="303.6" cy="642.1" r="2.05" fill="#c9c9c9"/>
<circle cx="317.4" cy="643.1" r="2.05" fill="#c9c9c9"/>
<circle cx="315.9" cy="642.8" r="2.05" fill="#c9c9c9"/>
<circle cx="252.6" cy="643.2" r="2.05" fill="#c9c9c9"/>
<circle cx="325.9" cy="643.0" r="2.05" fill="#c9c9c9"/>
<circle cx="252.6" cy="642.4" r="2.05" fill="#c9c9c9"/>
<circle cx="312.1" cy="642.4" r="2.05" fill="#c9c9c9"/>
<circle cx="303.4" cy="642.6" r="2.05" fill="#c9c9c9"/>
<circle cx="313.9" cy="642.9" r="2.05" fill="#c9c9c9"/>
<circle cx="291.9" cy="642.6" r="2.05" fill="#c9c9c9"/>
<circle cx="275.4" cy="642.2" r="2.05" fill="#c9c9c9"/>
<circle cx="332.1" cy="642.4" r="2.05" fill="#c9c9c9"/>
<circle cx="293.4" cy="642.1" r="2.05" fill="#c9c9c9"/>
<circle cx="309.9" cy="642.3" r="2.05" fill="#c9c9c9"/>
<circle cx="282.0" cy="641.6" r="2.05" fill="#c9c9c9"/>
<circle cx="319.4" cy="642.2" r="2.05" fill="#c9c9c9"/>
<circle cx="317.5" cy="641.8" r="2.05" fill="#c9c9c9"/>
<circle cx="320.0" cy="643.5" r="2.05" fill="#c9c9c9"/>
<circle cx="302.6" cy="641.9" r="2.05" fill="#c9c9c9"/>
<circle cx="292.1" cy="642.4" r="2.05" fill="#c9c9c9"/>
<circle cx="282.9" cy="641.8" r="2.05" fill="#c9c9c9"/>
<circle cx="282.8" cy="643.0" r="2.05" fill="#c9c9c9"/>
<circle cx="334.2" cy="643.2" r="2.05" fill="#c9c9c9"/>
<circle cx="278.8" cy="642.8" r="2.05" fill="#c9c9c9"/>
<circle cx="283.2" cy="642.9" r="2.05" fill="#c9c9c9"/>
<circle cx="271.3" cy="642.8" r="2.05" fill="#c9c9c9"/>
<circle cx="272.8" cy="642.6" r="2.05" fill="#c9c9c9"/>
<circle cx="255.3" cy="642.1" r="2.05" fill="#c9c9c9"/>
<circle cx="261.1" cy="642.0" r="2.05" fill="#c9c9c9"/>
<circle cx="250.6" cy="642.0" r="2.05" fill="#c9c9c9"/>
<circle cx="326.8" cy="642.8" r="2.05" fill="#c9c9c9"/>
<circle cx="248.3" cy="642.8" r="2.05" fill="#c9c9c9"/>
<circle cx="264.6" cy="642.8" r="2.05" fill="#c9c9c9"/>
<circle cx="266.2" cy="642.5" r="2.05" fill="#c9c9c9"/>
<circle cx="265.2" cy="642.0" r="2.05" fill="#c9c9c9"/>
<circle cx="261.6" cy="642.5" r="2.05" fill="#c9c9c9"/>
<circle cx="313.2" cy="642.9" r="2.05" fill="#c9c9c9"/>
<circle cx="273.1" cy="641.8" r="2.05" fill="#c9c9c9"/>
<circle cx="288.2" cy="642.4" r="2.05" fill="#c9c9c9"/>
<circle cx="268.4" cy="643.4" r="2.05" fill="#c9c9c9"/>
<circle cx="275.8" cy="642.0" r="2.05" fill="#c9c9c9"/>
<circle cx="294.3" cy="643.1" r="2.05" fill="#c9c9c9"/>
<circle cx="264.9" cy="642.5" r="2.05" fill="#c9c9c9"/>
<circle cx="249.5" cy="643.4" r="2.05" fill="#c9c9c9"/>
<circle cx="279.6" cy="642.3" r="2.05" fill="#c9c9c9"/>
<circle cx="292.5" cy="642.2" r="2.05" fill="#c9c9c9"/>
<circle cx="334.1" cy="642.6" r="2.05" fill="#c9c9c9"/>
<circle cx="304.2" cy="642.6" r="2.05" fill="#c9c9c9"/>
<circle cx="287.5" cy="642.7" r="2.05" fill="#c9c9c9"/>
<circle cx="278.4" cy="642.8" r="2.05" fill="#c9c9c9"/>
<circle cx="299.5" cy="641.9" r="2.05" fill="#c9c9c9"/>
<circle cx="259.2" cy="642.8" r="2.05" fill="#c9c9c9"/>
<circle cx="268.3" cy="642.9" r="2.05" fill="#c9c9c9"/>
<circle cx="323.2" cy="642.0" r="2.05" fill="#c9c9c9"/>
<circle cx="334.4" cy="642.5" r="2.05" fill="#c9c9c9"/>
<circle cx="269.0" cy="642.3" r="2.05" fill="#c9c9c9"/>
<circle cx="314.3" cy="642.5" r="2.05" fill="#c9c9c9"/>
<circle cx="245.1" cy="643.0" r="2.05" fill="#c9c9c9"/>
<circle cx="319.0" cy="641.8" r="2.05" fill="#c9c9c9"/>
<circle cx="252.4" cy="642.5" r="2.05" fill="#c9c9c9"/>
<circle cx="253.7" cy="643.3" r="2.05" fill="#c9c9c9"/>
<circle cx="288.2" cy="641.5" r="2.05" fill="#c9c9c9"/>
<circle cx="297.8" cy="642.8" r="2.05" fill="#c9c9c9"/>
<circle cx="322.2" cy="642.3" r="2.05" fill="#c9c9c9"/>
<circle cx="282.5" cy="643.3" r="2.05" fill="#c9c9c9"/>
<circle cx="327.5" cy="643.3" r="2.05" fill="#c9c9c9"/>
<circle cx="263.8" cy="643.1" r="2.05" fill="#c9c9c9"/>
<circle cx="293.9" cy="642.3" r="2.05" fill="#c9c9c9"/>
<circle cx="319.9" cy="642.6" r="2.05" fill="#c9c9c9"/>
<circle cx="273.0" cy="642.5" r="2.05" fill="#c9c9c9"/>
<circle cx="272.5" cy="642.8" r="2.05" fill="#c9c9c9"/>
<circle cx="287.1" cy="642.5" r="2.05" fill="#c9c9c9"/>
<circle cx="306.8" cy="642.2" r="2.05" fill="#c9c9c9"/>
<circle cx="254.5" cy="642.2" r="2.05" fill="#c9c9c9"/>
<circle cx="332.0" cy="642.9" r="2.05" fill="#c9c9c9"/>
<circle cx="319.7" cy="642.6" r="2.05" fill="#c9c9c9"/>
<circle cx="278.9" cy="642.5" r="2.05" fill="#c9c9c9"/>
<circle cx="308.9" cy="642.6" r="2.05" fill="#c9c9c9"/>
<circle cx="286.2" cy="643.2" r="2.05" fill="#c9c9c9"/>
<circle cx="245.9" cy="643.4" r="2.05" fill="#c9c9c9"/>
<circle cx="263.6" cy="642.6" r="2.05" fill="#c9c9c9"/>
<circle cx="300.4" cy="642.5" r="2.05" fill="#c9c9c9"/>
<circle cx="293.6" cy="643.0" r="2.05" fill="#c9c9c9"/>
<circle cx="271.8" cy="642.4" r="2.05" fill="#c9c9c9"/>
<circle cx="305.0" cy="643.0" r="2.05" fill="#c9c9c9"/>
<circle cx="268.1" cy="642.8" r="2.05" fill="#c9c9c9"/>
<circle cx="274.6" cy="643.3" r="2.05" fill="#c9c9c9"/>
<circle cx="330.1" cy="641.9" r="2.05" fill="#c9c9c9"/>
<circle cx="274.8" cy="642.3" r="2.05" fill="#c9c9c9"/>
<circle cx="319.4" cy="642.8" r="2.05" fill="#c9c9c9"/>
<circle cx="253.5" cy="642.7" r="2.05" fill="#c9c9c9"/>
<circle cx="306.0" cy="642.5" r="2.05" fill="#c9c9c9"/>
<circle cx="281.2" cy="642.3" r="2.05" fill="#c9c9c9"/>
<circle cx="320.3" cy="642.4" r="2.05" fill="#c9c9c9"/>
<circle cx="265.4" cy="642.5" r="2.05" fill="#c9c9c9"/>
<circle cx="259.1" cy="642.9" r="2.05" fill="#c9c9c9"/>
<circle cx="251.5" cy="642.9" r="2.05" fill="#c9c9c9"/>
<circle cx="327.9" cy="642.1" r="2.05" fill="#c9c9c9"/>
<circle cx="303.3" cy="642.8" r="2.05" fill="#c9c9c9"/>
<circle cx="314.0" cy="642.8" r="2.05" fill="#c9c9c9"/>
<circle cx="274.8" cy="642.2" r="2.05" fill="#c9c9c9"/>
<circle cx="282.1" cy="643.1" r="2.05" fill="#c9c9c9"/>
<circle cx="308.0" cy="642.6" r="2.05" fill="#c9c9c9"/>
<circle cx="333.4" cy="642.8" r="2.05" fill="#c9c9c9"/>
<circle cx="299.8" cy="642.0" r="2.05" fill="#c9c9c9"/>
<circle cx="246.7" cy="642.4" r="2.05" fill="#c9c9c9"/>
<circle cx="303.6" cy="643.0" r="2.05" fill="#c9c9c9"/>
<circle cx="254.6" cy="642.2" r="2.05" fill="#c9c9c9"/>
<circle cx="316.0" cy="643.0" r="2.05" fill="#c9c9c9"/>
<circle cx="320.1" cy="640.8" r="2.05" fill="#cbcbcb"/>
<circle cx="315.2" cy="640.9" r="2.05" fill="#cbcbcb"/>
<circle cx="326.8" cy="640.2" r="2.05" fill="#cbcbcb"/>
<circle cx="292.5" cy="641.1" r="2.05" fill="#cbcbcb"/>
<circle cx="262.0" cy="640.5" r="2.05" fill="#cbcbcb"/>
<circle cx="293.9" cy="637.2" r="2.05" fill="#cbcbcb"/>
<circle cx="310.8" cy="641.0" r="2.05" fill="#cbcbcb"/>
<circle cx="330.3" cy="640.6" r="2.05" fill="#cbcbcb"/>
<circle cx="303.3" cy="641.3" r="2.05" fill="#cbcbcb"/>
<circle cx="270.8" cy="640.9" r="2.05" fill="#cbcbcb"/>
<circle cx="299.0" cy="641.1" r="2.05" fill="#cbcbcb"/>
<circle cx="329.0" cy="640.2" r="2.05" fill="#cbcbcb"/>
<circle cx="344.8" cy="641.3" r="2.05" fill="#cfcfcf"/>
<circle cx="383.3" cy="641.8" r="2.05" fill="#cfcfcf"/>
<circle cx="330.5" cy="640.7" r="2.05" fill="#cfcfcf"/>
<circle cx="357.3" cy="641.1" r="2.05" fill="#cfcfcf"/>
<circle cx="357.3" cy="641.7" r="2.05" fill="#cfcfcf"/>
<circle cx="384.5" cy="639.2" r="2.05" fill="#cfcfcf"/>
<circle cx="373.5" cy="641.5" r="2.05" fill="#cfcfcf"/>
<circle cx="374.0" cy="641.6" r="2.05" fill="#cfcfcf"/>
<circle cx="340.2" cy="641.2" r="2.05" fill="#cfcfcf"/>
<circle cx="358.1" cy="641.4" r="2.05" fill="#cfcfcf"/>
<circle cx="374.3" cy="641.4" r="2.05" fill="#cfcfcf"/>
<circle cx="326.8" cy="640.5" r="2.05" fill="#cfcfcf"/>
<circle cx="324.0" cy="640.4" r="2.05" fill="#cfcfcf"/>
<circle cx="381.2" cy="638.5" r="2.05" fill="#cfcfcf"/>
<circle cx="363.5" cy="641.3" r="2.05" fill="#cfcfcf"/>
<circle cx="368.5" cy="640.2" r="2.05" fill="#cfcfcf"/>
<circle cx="346.0" cy="640.0" r="2.05" fill="#cfcfcf"/>
<circle cx="323.0" cy="640.7" r="2.05" fill="#cfcfcf"/>
<circle cx="334.6" cy="641.3" r="2.05" fill="#cfcfcf"/>
<circle cx="346.3" cy="641.9" r="2.05" fill="#cfcfcf"/>
<circle cx="357.9" cy="641.3" r="2.05" fill="#cfcfcf"/>
<circle cx="338.6" cy="640.6" r="2.05" fill="#cfcfcf"/>
<circle cx="357.8" cy="641.1" r="2.05" fill="#cfcfcf"/>
<circle cx="324.4" cy="640.4" r="2.05" fill="#cfcfcf"/>
<circle cx="364.3" cy="640.0" r="2.05" fill="#cfcfcf"/>
<circle cx="359.8" cy="639.4" r="2.05" fill="#cfcfcf"/>
<circle cx="351.6" cy="640.5" r="2.05" fill="#cfcfcf"/>
<circle cx="365.4" cy="641.0" r="2.05" fill="#cfcfcf"/>
<circle cx="369.8" cy="642.0" r="2.05" fill="#cfcfcf"/>
<circle cx="384.7" cy="640.5" r="2.05" fill="#cfcfcf"/>
<circle cx="374.8" cy="641.2" r="2.05" fill="#cfcfcf"/>
<circle cx="349.3" cy="640.9" r="2.05" fill="#cfcfcf"/>
<circle cx="357.7" cy="640.7" r="2.05" fill="#cfcfcf"/>
<circle cx="355.1" cy="641.1" r="2.05" fill="#cfcfcf"/>
<circle cx="349.2" cy="641.1" r="2.05" fill="#cfcfcf"/>
<circle cx="325.4" cy="641.4" r="2.05" fill="#cfcfcf"/>
<circle cx="367.7" cy="640.3" r="2.05" fill="#cfcfcf"/>
<circle cx="359.6" cy="640.8" r="2.05" fill="#cfcfcf"/>
<circle cx="369.4" cy="641.4" r="2.05" fill="#cfcfcf"/>
<circle cx="326.4" cy="640.4" r="2.05" fill="#cfcfcf"/>
<circle cx="329.8" cy="640.5" r="2.05" fill="#cfcfcf"/>
<circle cx="347.0" cy="641.5" r="2.05" fill="#cfcfcf"/>
<circle cx="325.3" cy="641.5" r="2.05" fill="#cfcfcf"/>
<circle cx="337.1" cy="640.5" r="2.05" fill="#cfcfcf"/>
<circle cx="341.3" cy="641.2" r="2.05" fill="#cfcfcf"/>
<circle cx="326.3" cy="641.4" r="2.05" fill="#cfcfcf"/>
<circle cx="379.4" cy="640.1" r="2.05" fill="#cfcfcf"/>
<circle cx="376.6" cy="641.6" r="2.05" fill="#cfcfcf"/>
<circle cx="348.5" cy="641.7" r="2.05" fill="#cfcfcf"/>
<circle cx="369.0" cy="641.1" r="2.05" fill="#cfcfcf"/>
<circle cx="357.7" cy="641.5" r="2.05" fill="#cfcfcf"/>
<circle cx="371.9" cy="641.7" r="2.05" fill="#cfcfcf"/>
<circle cx="329.8" cy="638.9" r="2.05" fill="#cfcfcf"/>
<circle cx="322.0" cy="641.3" r="2.05" fill="#cfcfcf"/>
<circle cx="337.4" cy="641.6" r="2.05" fill="#cfcfcf"/>
<circle cx="325.9" cy="640.9" r="2.05" fill="#cfcfcf"/>
<circle cx="378.4" cy="641.5" r="2.05" fill="#cfcfcf"/>
<circle cx="344.5" cy="640.8" r="2.05" fill="#cfcfcf"/>
<circle cx="358.9" cy="641.7" r="2.05" fill="#cfcfcf"/>
<circle cx="378.6" cy="641.9" r="2.05" fill="#cfcfcf"/>
<circle cx="341.4" cy="639.0" r="2.05" fill="#cfcfcf"/>
<circle cx="383.6" cy="642.0" r="2.05" fill="#cfcfcf"/>
<circle cx="351.8" cy="641.7" r="2.05" fill="#cfcfcf"/>
<circle cx="380.1" cy="641.0" r="2.05" fill="#cfcfcf"/>
<circle cx="378.5" cy="641.2" r="2.05" fill="#cfcfcf"/>
<circle cx="344.3" cy="639.7" r="2.05" fill="#cfcfcf"/>
<circle cx="351.8" cy="640.7" r="2.05" fill="#cfcfcf"/>
<circle cx="384.7" cy="639.6" r="2.05" fill="#cfcfcf"/>
<circle cx="334.7" cy="641.4" r="2.05" fill="#cfcfcf"/>
<circle cx="377.5" cy="641.4" r="2.05" fill="#cfcfcf"/>
<circle cx="325.2" cy="640.4" r="2.05" fill="#cfcfcf"/>
<circle cx="341.7" cy="640.7" r="2.05" fill="#cfcfcf"/>
<circle cx="378.7" cy="640.6" r="2.05" fill="#cfcfcf"/>
<circle cx="330.5" cy="640.5" r="2.05" fill="#cfcfcf"/>
<circle cx="365.8" cy="640.7" r="2.05" fill="#cfcfcf"/>
<circle cx="327.0" cy="641.5" r="2.05" fill="#cfcfcf"/>
<circle cx="336.1" cy="641.3" r="2.05" fill="#cfcfcf"/>
<circle cx="334.4" cy="640.1" r="2.05" fill="#cfcfcf"/>
<circle cx="333.4" cy="641.8" r="2.05" fill="#cfcfcf"/>
<circle cx="371.8" cy="640.1" r="2.05" fill="#cfcfcf"/>
<circle cx="345.5" cy="640.6" r="2.05" fill="#cfcfcf"/>
<circle cx="359.2" cy="639.7" r="2.05" fill="#cfcfcf"/>
<circle cx="336.4" cy="641.1" r="2.05" fill="#cfcfcf"/>
<circle cx="364.0" cy="639.2" r="2.05" fill="#cfcfcf"/>
<circle cx="339.4" cy="641.6" r="2.05" fill="#cfcfcf"/>
<circle cx="383.9" cy="641.6" r="2.05" fill="#cfcfcf"/>
<circle cx="349.7" cy="640.4" r="2.05" fill="#cfcfcf"/>
<circle cx="324.9" cy="641.7" r="2.05" fill="#cfcfcf"/>
<circle cx="359.8" cy="641.8" r="2.05" fill="#cfcfcf"/>
<circle cx="372.6" cy="641.0" r="2.05" fill="#cfcfcf"/>
<circle cx="327.5" cy="641.5" r="2.05" fill="#cfcfcf"/>
<circle cx="337.5" cy="639.9" r="2.05" fill="#cfcfcf"/>
<circle cx="339.6" cy="641.2" r="2.05" fill="#cfcfcf"/>
<circle cx="378.5" cy="641.8" r="2.05" fill="#cfcfcf"/>
<circle cx="384.2" cy="640.6" r="2.05" fill="#cfcfcf"/>
<circle cx="369.3" cy="641.7" r="2.05" fill="#cfcfcf"/>
<circle cx="346.2" cy="640.6" r="2.05" fill="#cfcfcf"/>
<circle cx="333.3" cy="641.3" r="2.05" fill="#cfcfcf"/>
<circle cx="357.0" cy="641.2" r="2.05" fill="#cfcfcf"/>
<circle cx="363.5" cy="641.0" r="2.05" fill="#cfcfcf"/>
<circle cx="371.3" cy="640.5" r="2.05" fill="#cfcfcf"/>
<circle cx="375.3" cy="641.8" r="2.05" fill="#cfcfcf"/>
<circle cx="365.1" cy="638.8" r="2.05" fill="#cfcfcf"/>
<circle cx="333.0" cy="641.6" r="2.05" fill="#cfcfcf"/>
<circle cx="371.1" cy="641.1" r="2.05" fill="#cfcfcf"/>
<circle cx="336.8" cy="640.5" r="2.05" fill="#cfcfcf"/>
<circle cx="349.7" cy="641.7" r="2.05" fill="#cfcfcf"/>
<circle cx="371.8" cy="639.7" r="2.05" fill="#cfcfcf"/>
<circle cx="336.9" cy="641.1" r="2.05" fill="#cfcfcf"/>
<circle cx="358.5" cy="641.9" r="2.05" fill="#cfcfcf"/>
<circle cx="412.4" cy="638.2" r="2.05" fill="#cfcfcf"/>
<circle cx="424.3" cy="640.8" r="2.05" fill="#cfcfcf"/>
<circle cx="416.5" cy="640.4" r="2.05" fill="#cfcfcf"/>
<circle cx="393.3" cy="640.4" r="2.05" fill="#cfcfcf"/>
<circle cx="386.0" cy="638.8" r="2.05" fill="#cfcfcf"/>
<circle cx="409.3" cy="641.4" r="2.05" fill="#cfcfcf"/>
<circle cx="399.5" cy="641.2" r="2.05" fill="#cfcfcf"/>
<circle cx="434.9" cy="640.6" r="2.05" fill="#cfcfcf"/>
<circle cx="416.3" cy="637.2" r="2.05" fill="#cfcfcf"/>
<circle cx="398.1" cy="640.3" r="2.05" fill="#cfcfcf"/>
<circle cx="393.0" cy="641.2" r="2.05" fill="#cfcfcf"/>
<circle cx="402.3" cy="640.8" r="2.05" fill="#cfcfcf"/>
<circle cx="419.2" cy="639.6" r="2.05" fill="#cfcfcf"/>
<circle cx="417.4" cy="641.2" r="2.05" fill="#cfcfcf"/>
<circle cx="389.9" cy="640.8" r="2.05" fill="#cfcfcf"/>
<circle cx="399.0" cy="640.1" r="2.05" fill="#cfcfcf"/>
<circle cx="393.8" cy="639.8" r="2.05" fill="#cfcfcf"/>
<circle cx="428.3" cy="637.1" r="2.05" fill="#cfcfcf"/>
<circle cx="388.4" cy="639.5" r="2.05" fill="#cfcfcf"/>
<circle cx="396.9" cy="640.2" r="2.05" fill="#cfcfcf"/>
<circle cx="438.4" cy="638.7" r="2.05" fill="#cfcfcf"/>
<circle cx="426.9" cy="640.7" r="2.05" fill="#cfcfcf"/>
<circle cx="428.5" cy="637.3" r="2.05" fill="#dadada"/>
<circle cx="402.5" cy="636.2" r="2.05" fill="#dadada"/>
<circle cx="326.2" cy="640.3" r="2.05" fill="#dadada"/>
<circle cx="337.3" cy="629.5" r="2.05" fill="#dadada"/>
<circle cx="364.4" cy="639.3" r="2.05" fill="#dadada"/>
<circle cx="330.3" cy="635.5" r="2.05" fill="#dadada"/>
<circle cx="325.7" cy="631.7" r="2.05" fill="#dadada"/>
<circle cx="401.3" cy="640.8" r="2.05" fill="#dadada"/>
<circle cx="346.8" cy="640.9" r="2.05" fill="#dadada"/>
<circle cx="348.1" cy="634.0" r="2.05" fill="#dadada"/>
<circle cx="371.8" cy="636.2" r="2.05" fill="#dadada"/>
<circle cx="358.4" cy="638.8" r="2.05" fill="#dadada"/>
<circle cx="428.0" cy="639.8" r="2.05" fill="#dadada"/>
<circle cx="365.5" cy="640.0" r="2.05" fill="#dadada"/>
<circle cx="392.2" cy="636.3" r="2.05" fill="#dadada"/>
<circle cx="397.0" cy="639.2" r="2.05" fill="#dadada"/>
<circle cx="415.4" cy="631.3" r="2.05" fill="#dadada"/>
<circle cx="372.0" cy="634.8" r="2.05" fill="#dadada"/>
<circle cx="364.4" cy="638.0" r="2.05" fill="#dadada"/>
<circle cx="406.4" cy="636.5" r="2.05" fill="#dadada"/>
<circle cx="345.3" cy="639.0" r="2.05" fill="#dadada"/>
<circle cx="381.4" cy="638.1" r="2.05" fill="#dadada"/>
<circle cx="339.7" cy="639.9" r="2.05" fill="#dadada"/>
<circle cx="372.5" cy="637.3" r="2.05" fill="#dadada"/>
<circle cx="355.3" cy="624.5" r="2.05" fill="#dadada"/>
<circle cx="395.4" cy="635.3" r="2.05" fill="#dadada"/>
<circle cx="415.2" cy="639.5" r="2.05" fill="#dadada"/>
<circle cx="329.9" cy="635.8" r="2.05" fill="#dadada"/>
<circle cx="396.7" cy="638.1" r="2.05" fill="#dadada"/>
<circle cx="324.0" cy="637.7" r="2.05" fill="#dadada"/>
<circle cx="341.7" cy="640.6" r="2.05" fill="#dadada"/>
<circle cx="421.7" cy="635.5" r="2.05" fill="#dadada"/>
<circle cx="399.2" cy="640.4" r="2.05" fill="#dadada"/>
<circle cx="338.6" cy="635.8" r="2.05" fill="#dadada"/>
<circle cx="423.2" cy="635.0" r="2.05" fill="#dadada"/>
<circle cx="400.1" cy="633.8" r="2.05" fill="#dadada"/>
<circle cx="420.0" cy="636.2" r="2.05" fill="#dadada"/>
<circle cx="363.5" cy="640.4" r="2.05" fill="#dadada"/>
<circle cx="331.0" cy="637.4" r="2.05" fill="#dadada"/>
<circle cx="405.2" cy="637.7" r="2.05" fill="#dadada"/>
<circle cx="378.1" cy="635.8" r="2.05" fill="#dadada"/>
<circle cx="347.7" cy="639.1" r="2.05" fill="#dadada"/>
<circle cx="326.4" cy="636.7" r="2.05" fill="#dadada"/>
<circle cx="325.4" cy="635.0" r="2.05" fill="#dadada"/>
<circle cx="355.7" cy="634.9" r="2.05" fill="#dadada"/>
<circle cx="336.7" cy="637.8" r="2.05" fill="#dadada"/>
<circle cx="398.3" cy="640.4" r="2.05" fill="#dadada"/>
<circle cx="393.9" cy="632.2" r="2.05" fill="#dadada"/>
<circle cx="337.9" cy="639.8" r="2.05" fill="#dadada"/>
<circle cx="399.0" cy="636.7" r="2.05" fill="#dadada"/>
<circle cx="460.5" cy="639.7" r="2.05" fill="#d6d6d6"/>
<circle cx="442.6" cy="640.0" r="2.05" fill="#d6d6d6"/>
<circle cx="449.2" cy="641.4" r="2.05" fill="#d6d6d6"/>
<circle cx="424.1" cy="641.1" r="2.05" fill="#d6d6d6"/>
<circle cx="422.5" cy="640.7" r="2.05" fill="#d6d6d6"/>
<circle cx="500.9" cy="640.6" r="2.05" fill="#d6d6d6"/>
<circle cx="517.6" cy="641.3" r="2.05" fill="#d6d6d6"/>
<circle cx="511.9" cy="639.9" r="2.05" fill="#d6d6d6"/>
<circle cx="441.6" cy="641.2" r="2.05" fill="#d6d6d6"/>
<circle cx="515.5" cy="639.9" r="2.05" fill="#d6d6d6"/>
<circle cx="506.8" cy="641.8" r="2.05" fill="#d6d6d6"/>
<circle cx="429.0" cy="639.9" r="2.05" fill="#d6d6d6"/>
<circle cx="462.8" cy="641.6" r="2.05" fill="#d6d6d6"/>
<circle cx="458.3" cy="641.7" r="2.05" fill="#d6d6d6"/>
<circle cx="436.4" cy="552.3" r="2.05" fill="#d9d9d9"/>
<circle cx="472.6" cy="576.4" r="2.05" fill="#d9d9d9"/>
<circle cx="422.5" cy="601.3" r="2.05" fill="#d9d9d9"/>
<circle cx="430.2" cy="599.9" r="2.05" fill="#d9d9d9"/>
<circle cx="439.4" cy="595.6" r="2.05" fill="#d9d9d9"/>
<circle cx="436.4" cy="610.5" r="2.05" fill="#d9d9d9"/>
<circle cx="432.7" cy="630.0" r="2.05" fill="#d9d9d9"/>
<circle cx="412.3" cy="634.0" r="2.05" fill="#d9d9d9"/>
<circle cx="447.4" cy="639.7" r="2.05" fill="#d9d9d9"/>
<circle cx="461.3" cy="631.6" r="2.05" fill="#d9d9d9"/>
<circle cx="382.8" cy="596.0" r="2.05" fill="#d9d9d9"/>
<circle cx="378.0" cy="614.0" r="2.05" fill="#d9d9d9"/>
<circle cx="362.0" cy="619.0" r="2.05" fill="#d9d9d9"/>
<circle cx="352.0" cy="626.0" r="2.05" fill="#d9d9d9"/>
<circle cx="386.0" cy="610.0" r="2.05" fill="#d9d9d9"/>
<circle cx="396.0" cy="612.0" r="2.05" fill="#d9d9d9"/>
<circle cx="410.0" cy="605.0" r="2.05" fill="#d9d9d9"/>
<circle cx="426.0" cy="622.0" r="2.05" fill="#d9d9d9"/>
<circle cx="400.0" cy="627.0" r="2.05" fill="#d9d9d9"/>
<circle cx="382.0" cy="627.0" r="2.05" fill="#d9d9d9"/>
<circle cx="335.0" cy="630.0" r="2.05" fill="#d9d9d9"/>
<circle cx="333.0" cy="624.0" r="2.05" fill="#d9d9d9"/>
<circle cx="346.0" cy="628.0" r="2.05" fill="#d9d9d9"/>
<circle cx="358.0" cy="630.0" r="2.05" fill="#d9d9d9"/>
<circle cx="366.0" cy="630.0" r="2.05" fill="#d9d9d9"/>
<circle cx="450.0" cy="626.0" r="2.05" fill="#d9d9d9"/>
<circle cx="458.0" cy="636.0" r="2.05" fill="#d9d9d9"/>
<circle cx="466.0" cy="638.0" r="2.05" fill="#d9d9d9"/>
<circle cx="490.0" cy="640.0" r="2.05" fill="#d9d9d9"/>
<circle cx="500.0" cy="639.0" r="2.05" fill="#d9d9d9"/>
<circle cx="512.0" cy="640.5" r="2.05" fill="#d9d9d9"/>
<circle cx="520.0" cy="641.0" r="2.05" fill="#d9d9d9"/>
<circle cx="495.0" cy="636.0" r="2.05" fill="#d9d9d9"/>
<circle cx="505.0" cy="632.0" r="2.05" fill="#d9d9d9"/>
<circle cx="420.0" cy="625.0" r="2.05" fill="#d9d9d9"/>
<circle cx="428.0" cy="616.0" r="2.05" fill="#d9d9d9"/>
<circle cx="388.0" cy="588.0" r="2.05" fill="#d9d9d9"/>
<circle cx="404.0" cy="598.0" r="2.05" fill="#d9d9d9"/>
<circle cx="416.0" cy="593.0" r="2.05" fill="#d9d9d9"/>
<circle cx="372.0" cy="628.0" r="2.05" fill="#d9d9d9"/>
<circle cx="430.0" cy="606.0" r="2.05" fill="#d9d9d9"/>
<circle cx="440.0" cy="620.0" r="2.05" fill="#d9d9d9"/>
<circle cx="310.5" cy="634.7" r="2.05" fill="#d9d9d9"/>
<circle cx="319.5" cy="630.5" r="2.05" fill="#d9d9d9"/>
<circle cx="305.0" cy="638.0" r="2.05" fill="#d9d9d9"/>
<circle cx="314.0" cy="637.5" r="2.05" fill="#d9d9d9"/>
<circle cx="298.0" cy="639.0" r="2.05" fill="#d9d9d9"/>
<circle cx="290.0" cy="638.5" r="2.05" fill="#d9d9d9"/>
<circle cx="283.0" cy="639.5" r="2.05" fill="#d9d9d9"/>
<path d="M222,642.9 L338,642.9" stroke="#bebebe" stroke-width="1.6" stroke-linecap="round"/>
<line x1="109.6" y1="382.2" x2="109.6" y2="655.4" stroke="#555" stroke-width="1.2"/>
<line x1="109.0" y1="654.8" x2="575.3" y2="654.8" stroke="#555" stroke-width="1.2"/>
<line x1="105.7" y1="642.3" x2="109.6" y2="642.3" stroke="#555" stroke-width="0.9"/>
<text x="95.9" y="645.4" font-size="8.7" text-anchor="end" fill="#222">0</text>
<line x1="105.7" y1="630.005" x2="109.6" y2="630.005" stroke="#555" stroke-width="0.9"/>
<line x1="105.7" y1="617.7099999999999" x2="109.6" y2="617.7099999999999" stroke="#555" stroke-width="0.9"/>
<text x="95.9" y="620.81" font-size="8.7" text-anchor="end" fill="#222">20</text>
<line x1="105.7" y1="605.415" x2="109.6" y2="605.415" stroke="#555" stroke-width="0.9"/>
<line x1="105.7" y1="593.12" x2="109.6" y2="593.12" stroke="#555" stroke-width="0.9"/>
<text x="95.9" y="596.22" font-size="8.7" text-anchor="end" fill="#222">40</text>
<line x1="105.7" y1="580.8249999999999" x2="109.6" y2="580.8249999999999" stroke="#555" stroke-width="0.9"/>
<line x1="105.7" y1="568.53" x2="109.6" y2="568.53" stroke="#555" stroke-width="0.9"/>
<text x="95.9" y="571.63" font-size="8.7" text-anchor="end" fill="#222">60</text>
<line x1="105.7" y1="556.2349999999999" x2="109.6" y2="556.2349999999999" stroke="#555" stroke-width="0.9"/>
<line x1="105.7" y1="543.9399999999999" x2="109.6" y2="543.9399999999999" stroke="#555" stroke-width="0.9"/>
<text x="95.9" y="547.04" font-size="8.7" text-anchor="end" fill="#222">80</text>
<line x1="105.7" y1="531.645" x2="109.6" y2="531.645" stroke="#555" stroke-width="0.9"/>
<line x1="105.7" y1="519.3499999999999" x2="109.6" y2="519.3499999999999" stroke="#555" stroke-width="0.9"/>
<text x="95.9" y="522.4499999999999" font-size="8.7" text-anchor="end" fill="#222">100</text>
<line x1="105.7" y1="507.05499999999995" x2="109.6" y2="507.05499999999995" stroke="#555" stroke-width="0.9"/>
<line x1="105.7" y1="494.76" x2="109.6" y2="494.76" stroke="#555" stroke-width="0.9"/>
<text x="95.9" y="497.86" font-size="8.7" text-anchor="end" fill="#222">120</text>
<line x1="105.7" y1="482.4649999999999" x2="109.6" y2="482.4649999999999" stroke="#555" stroke-width="0.9"/>
<line x1="105.7" y1="470.16999999999996" x2="109.6" y2="470.16999999999996" stroke="#555" stroke-width="0.9"/>
<text x="95.9" y="473.27" font-size="8.7" text-anchor="end" fill="#222">140</text>
<line x1="105.7" y1="457.87499999999994" x2="109.6" y2="457.87499999999994" stroke="#555" stroke-width="0.9"/>
<line x1="105.7" y1="445.5799999999999" x2="109.6" y2="445.5799999999999" stroke="#555" stroke-width="0.9"/>
<text x="95.9" y="448.67999999999995" font-size="8.7" text-anchor="end" fill="#222">160</text>
<line x1="105.7" y1="433.28499999999997" x2="109.6" y2="433.28499999999997" stroke="#555" stroke-width="0.9"/>
<line x1="105.7" y1="420.98999999999995" x2="109.6" y2="420.98999999999995" stroke="#555" stroke-width="0.9"/>
<text x="95.9" y="424.09" font-size="8.7" text-anchor="end" fill="#222">180</text>
<line x1="105.7" y1="408.69499999999994" x2="109.6" y2="408.69499999999994" stroke="#555" stroke-width="0.9"/>
<line x1="105.7" y1="396.4" x2="109.6" y2="396.4" stroke="#555" stroke-width="0.9"/>
<text x="95.9" y="399.5" font-size="8.7" text-anchor="end" fill="#222">200</text>
<line x1="136.5" y1="654.8" x2="136.5" y2="658.4" stroke="#555" stroke-width="0.9"/>
<text x="135.1" y="673.2" font-size="8.7" text-anchor="middle" fill="#222">-4</text>
<line x1="173.7" y1="654.8" x2="173.7" y2="658.4" stroke="#555" stroke-width="0.9"/>
<text x="172.29999999999998" y="673.2" font-size="8.7" text-anchor="middle" fill="#222">-3</text>
<line x1="210.9" y1="654.8" x2="210.9" y2="658.4" stroke="#555" stroke-width="0.9"/>
<text x="209.5" y="673.2" font-size="8.7" text-anchor="middle" fill="#222">-2</text>
<line x1="248.10000000000002" y1="654.8" x2="248.10000000000002" y2="658.4" stroke="#555" stroke-width="0.9"/>
<text x="246.70000000000002" y="673.2" font-size="8.7" text-anchor="middle" fill="#222">-1</text>
<line x1="285.3" y1="654.8" x2="285.3" y2="658.4" stroke="#555" stroke-width="0.9"/>
<text x="285.3" y="673.2" font-size="8.7" text-anchor="middle" fill="#222">0</text>
<line x1="322.5" y1="654.8" x2="322.5" y2="658.4" stroke="#555" stroke-width="0.9"/>
<text x="322.5" y="673.2" font-size="8.7" text-anchor="middle" fill="#222">1</text>
<line x1="359.70000000000005" y1="654.8" x2="359.70000000000005" y2="658.4" stroke="#555" stroke-width="0.9"/>
<text x="359.70000000000005" y="673.2" font-size="8.7" text-anchor="middle" fill="#222">2</text>
<line x1="396.90000000000003" y1="654.8" x2="396.90000000000003" y2="658.4" stroke="#555" stroke-width="0.9"/>
<text x="396.90000000000003" y="673.2" font-size="8.7" text-anchor="middle" fill="#222">3</text>
<line x1="434.1" y1="654.8" x2="434.1" y2="658.4" stroke="#555" stroke-width="0.9"/>
<text x="434.1" y="673.2" font-size="8.7" text-anchor="middle" fill="#222">4</text>
<line x1="471.3" y1="654.8" x2="471.3" y2="658.4" stroke="#555" stroke-width="0.9"/>
<text x="471.3" y="673.2" font-size="8.7" text-anchor="middle" fill="#222">5</text>
<line x1="508.5" y1="654.8" x2="508.5" y2="658.4" stroke="#555" stroke-width="0.9"/>
<text x="508.5" y="673.2" font-size="8.7" text-anchor="middle" fill="#222">6</text>
<line x1="545.7" y1="654.8" x2="545.7" y2="658.4" stroke="#555" stroke-width="0.9"/>
<text x="545.7" y="673.2" font-size="8.7" text-anchor="middle" fill="#222">7</text>
<text y="689.5" font-size="14.3" fill="#222"><tspan x="300.6">Log</tspan><tspan x="323.3" y="691.4" font-size="10.3">2</tspan><tspan x="333.5" y="689.5">fold change</tspan></text>
<g transform="translate(70.0,559.4) rotate(-90)" fill="#222"><text x="0" y="0" font-size="15">-Log</text><text x="29.7" y="-0.2" font-size="7.2" font-weight="bold">10</text><text x="46.3" y="-0.6" font-size="15" font-style="italic">P</text><text x="50.6" y="4.0" font-size="8.4" font-style="italic">adj</text></g>
<line x1="310.4" y1="612.4" x2="341.5" y2="629" stroke="#333" stroke-width="0.55"/>
<line x1="312.0" y1="630.4" x2="328.9" y2="641" stroke="#333" stroke-width="0.55"/>
<line x1="341.2" y1="563.4" x2="372.8" y2="635.5" stroke="#333" stroke-width="0.55"/>
<line x1="357.1" y1="579.7" x2="381.6" y2="630" stroke="#333" stroke-width="0.55"/>
<line x1="354.7" y1="601.2" x2="373.6" y2="633.8" stroke="#333" stroke-width="0.55"/>
<line x1="354.3" y1="618.3" x2="361.8" y2="632.3" stroke="#333" stroke-width="0.55"/>
<line x1="394.0" y1="568" x2="392.7" y2="632.5" stroke="#333" stroke-width="0.55"/>
<line x1="398.7" y1="575" x2="395.2" y2="632.3" stroke="#333" stroke-width="0.55"/>
<line x1="408.5" y1="584.4" x2="403.7" y2="631.6" stroke="#333" stroke-width="0.55"/>
<line x1="414.3" y1="594.9" x2="409.2" y2="633.5" stroke="#333" stroke-width="0.55"/>
<line x1="419.0" y1="628.8" x2="417.6" y2="636" stroke="#333" stroke-width="0.55"/>
<line x1="322" y1="647.5" x2="349.4" y2="637.5" stroke="#333" stroke-width="0.55"/>
<line x1="336" y1="647" x2="350.6" y2="639" stroke="#333" stroke-width="0.55"/>
<line x1="361" y1="647.5" x2="352.6" y2="641.5" stroke="#333" stroke-width="0.55"/>
<line x1="396" y1="643" x2="395.8" y2="641.5" stroke="#333" stroke-width="0.55"/>
<line x1="484" y1="639.5" x2="500" y2="645" stroke="#333" stroke-width="0.55"/>
<circle cx="527.2" cy="394.8" r="2.45" fill="#ee0a0a"/>
<circle cx="551.5" cy="533.6" r="2.45" fill="#ee0a0a"/>
<circle cx="538.0" cy="559.2" r="2.45" fill="#ee0a0a"/>
<circle cx="508.3" cy="581.7" r="2.45" fill="#ee0a0a"/>
<circle cx="515.3" cy="587.5" r="2.45" fill="#ee0a0a"/>
<circle cx="445.2" cy="606.7" r="2.45" fill="#ee0a0a"/>
<circle cx="418.8" cy="613.2" r="2.45" fill="#ee0a0a"/>
<circle cx="469.5" cy="623.3" r="2.45" fill="#ee0a0a"/>
<circle cx="470.2" cy="633.5" r="2.45" fill="#ee0a0a"/>
<circle cx="478.9" cy="629.1" r="2.45" fill="#ee0a0a"/>
<circle cx="479.6" cy="634.9" r="2.45" fill="#ee0a0a"/>
<circle cx="483.1" cy="638.9" r="2.45" fill="#ee0a0a"/>
<circle cx="455.5" cy="639.4" r="2.45" fill="#ee0a0a"/>
<circle cx="550.3" cy="619.0" r="2.45" fill="#ee0a0a"/>
<circle cx="554.3" cy="626.8" r="2.45" fill="#ee0a0a"/>
<circle cx="328.9" cy="641.0" r="2.45" fill="#ee0a0a"/>
<circle cx="341.5" cy="629.0" r="2.45" fill="#ee0a0a"/>
<circle cx="350.6" cy="636.4" r="2.45" fill="#ee0a0a"/>
<circle cx="349.4" cy="639.6" r="2.45" fill="#ee0a0a"/>
<circle cx="352.6" cy="641.0" r="2.45" fill="#ee0a0a"/>
<circle cx="363.8" cy="634.8" r="2.45" fill="#ee0a0a"/>
<circle cx="374.0" cy="638.7" r="2.45" fill="#ee0a0a"/>
<circle cx="375.7" cy="636.0" r="2.45" fill="#ee0a0a"/>
<circle cx="383.0" cy="632.2" r="2.45" fill="#ee0a0a"/>
<circle cx="392.7" cy="635.2" r="2.45" fill="#ee0a0a"/>
<circle cx="395.5" cy="634.7" r="2.45" fill="#ee0a0a"/>
<circle cx="395.8" cy="640.1" r="2.45" fill="#ee0a0a"/>
<circle cx="403.7" cy="633.6" r="2.45" fill="#ee0a0a"/>
<circle cx="408.2" cy="636.0" r="2.45" fill="#ee0a0a"/>
<circle cx="417.4" cy="638.5" r="2.45" fill="#ee0a0a"/>
<text x="432.6" y="386.2" font-size="7.6" font-style="italic" fill="#222">THE1B/ENSG00000259760.1; THE1B/ENSG00000259760.2</text>
<text x="558.3" y="535.6" font-size="7.6" font-style="italic" fill="#222">THE1B/CIR1</text>
<text x="544.8" y="561.9" font-size="7.6" font-style="italic" fill="#222">THE1B/DNAJC5B.1; THE1B/DNAJC5B.2</text>
<text x="514.4" y="582.2" font-size="6.4" font-style="italic" fill="#222">ENCT00000425851</text>
<text x="523.8" y="590.9" font-size="7.6" font-style="italic" fill="#222">LINC02154</text>
<text x="449.0" y="609.1" font-size="6.4" font-style="italic" fill="#222">THE1B/AMFR</text>
<text x="470.5" y="618.2" font-size="7.6" font-style="italic" fill="#222">ENTHD1</text>
<text x="481.2" y="627.1" font-size="6.4" font-style="italic" fill="#222">THE1B/SEC22B4P</text>
<text x="441.5" y="635.7" font-size="7.4" font-style="italic" fill="#222">SMFT4</text>
<text x="483.3" y="635.3" font-size="6.4" font-style="italic" fill="#222">THE1B/GDA-AS1; SMFT3</text>
<text x="500.4" y="647.4" font-size="6.4" font-style="italic" fill="#222">SMFT2</text>
<text x="442.5" y="651.6" font-size="6.4" font-style="italic" fill="#222">THE1B/SLC39A11</text>
<text x="559.3" y="621.7" font-size="7.6" font-style="italic" fill="#222">LOC107984475</text>
<text x="562.8" y="629.0" font-size="6.4" font-style="italic" fill="#222">SMFT1.1; SMFT1.2</text>
<text x="324.9" y="559.0" font-size="6.4" font-style="italic" fill="#222">ENSG00000287920</text>
<text x="374.7" y="567.0" font-size="6.4" font-style="italic" fill="#222">THE1B/LINC02968</text>
<text x="346.7" y="576.8" font-size="6.4" font-style="italic" fill="#222">THE1B/CBWD3</text>
<text x="395.0" y="575.1" font-size="6.4" font-style="italic" fill="#222">ENST00000596563.5</text>
<text x="400.3" y="583.5" font-size="6.4" font-style="italic" fill="#222">THE1B/CDC14A-AS1</text>
<text x="409.7" y="593.6" font-size="6.4" font-style="italic" fill="#222">THE1B/ROR-AS1</text>
<text x="322.8" y="601.0" font-size="6.4" font-style="italic" fill="#222">LINC00944</text>
<text x="277.6" y="612.9" font-size="6.4" font-style="italic" fill="#222">RPAP3-DT</text>
<text x="323.9" y="614.3" font-size="6.4" font-style="italic" fill="#222">THE1B/RS1</text>
<text x="411.5" y="620.6" font-size="6.4" font-style="italic" fill="#222">THE1B/LINC01588</text>
<text x="412.2" y="627.6" font-size="6.4" font-style="italic" fill="#222">THE1B/LINC01181</text>
<text x="275.5" y="630.8" font-size="6.4" font-style="italic" fill="#222">THE1B/CPO</text>
<text x="394.0" y="646.9" font-size="6.4" font-style="italic" fill="#222">LOC0374443</text>
<text x="293.2" y="651.8" font-size="6.4" font-style="italic" fill="#222">PARP16</text>
<text x="325.3" y="652.6" font-size="6.4" font-style="italic" fill="#222">LINC00877</text>
<text x="361.2" y="652.8" font-size="6.4" font-style="italic" fill="#222">THE1B/TTC39B</text>
<text x="57.0" y="800.9" font-size="10.5" font-style="italic" fill="#222">THE1B/CIR1</text>
<rect x="52.7" y="898" width="11.1" height="75.3" fill="#cbcbcb"/>
<rect x="63.8" y="968.1" width="11.4" height="5.2" fill="#cbcbcb"/>
<rect x="81.1" y="924.6" width="11.3" height="48.7" fill="#cbcbcb"/>
<rect x="92.4" y="935.8" width="11.4" height="37.5" fill="#cbcbcb"/>
<line x1="46.2" y1="973.3" x2="49.7" y2="973.3" stroke="#333" stroke-width="0.8"/>
<text x="43.9" y="976.0999999999999" font-size="8.0" text-anchor="end" fill="#333">0</text>
<line x1="46.2" y1="947.9649999999999" x2="49.7" y2="947.9649999999999" stroke="#333" stroke-width="0.8"/>
<text x="43.9" y="950.7649999999999" font-size="8.0" text-anchor="end" fill="#333">50</text>
<line x1="46.2" y1="922.63" x2="49.7" y2="922.63" stroke="#333" stroke-width="0.8"/>
<text x="43.9" y="925.43" font-size="8.0" text-anchor="end" fill="#333">100</text>
<line x1="46.2" y1="897.295" x2="49.7" y2="897.295" stroke="#333" stroke-width="0.8"/>
<text x="43.9" y="900.0949999999999" font-size="8.0" text-anchor="end" fill="#333">150</text>
<line x1="46.2" y1="871.9599999999999" x2="49.7" y2="871.9599999999999" stroke="#333" stroke-width="0.8"/>
<text x="43.9" y="874.7599999999999" font-size="8.0" text-anchor="end" fill="#333">200</text>
<line x1="46.2" y1="846.625" x2="49.7" y2="846.625" stroke="#333" stroke-width="0.8"/>
<text x="43.9" y="849.425" font-size="8.0" text-anchor="end" fill="#333">250</text>
<line x1="46.2" y1="821.29" x2="49.7" y2="821.29" stroke="#333" stroke-width="0.8"/>
<text x="43.9" y="824.0899999999999" font-size="8.0" text-anchor="end" fill="#333">300</text>
<line x1="49.7" y1="819.9" x2="49.7" y2="974" stroke="#222" stroke-width="1.2"/>
<line x1="49.1" y1="973.4" x2="135.5" y2="973.4" stroke="#222" stroke-width="1.2"/>
<text transform="translate(20.3,899) rotate(-90)" text-anchor="middle" font-size="12.9" fill="#222">Transcripts per million</text>
<line x1="58.2" y1="866.3" x2="58.2" y2="927.7" stroke="#555" stroke-width="0.8"/>
<line x1="55.900000000000006" y1="866.3" x2="60.5" y2="866.3" stroke="#555" stroke-width="0.8"/>
<line x1="55.900000000000006" y1="927.7" x2="60.5" y2="927.7" stroke="#555" stroke-width="0.8"/>
<line x1="69.5" y1="964.4" x2="69.5" y2="972" stroke="#555" stroke-width="0.8"/>
<line x1="67.2" y1="964.4" x2="71.8" y2="964.4" stroke="#555" stroke-width="0.8"/>
<line x1="67.2" y1="972" x2="71.8" y2="972" stroke="#555" stroke-width="0.8"/>
<line x1="86.9" y1="910.3" x2="86.9" y2="938.3" stroke="#555" stroke-width="0.8"/>
<line x1="84.60000000000001" y1="910.3" x2="89.2" y2="910.3" stroke="#555" stroke-width="0.8"/>
<line x1="84.60000000000001" y1="938.3" x2="89.2" y2="938.3" stroke="#555" stroke-width="0.8"/>
<line x1="98.1" y1="914.4" x2="98.1" y2="957.7" stroke="#555" stroke-width="0.8"/>
<line x1="95.8" y1="914.4" x2="100.39999999999999" y2="914.4" stroke="#555" stroke-width="0.8"/>
<line x1="95.8" y1="957.7" x2="100.39999999999999" y2="957.7" stroke="#555" stroke-width="0.8"/>
<defs><clipPath id="cpd"><rect x="45" y="800" width="100" height="173.4"/></clipPath></defs><g clip-path="url(#cpd)">
<circle cx="58.0" cy="866.8" r="2.9" fill="#0b0be3"/>
<circle cx="57.2" cy="888.8" r="2.9" fill="#0b0be3"/>
<circle cx="59.3" cy="938.3" r="2.9" fill="#0b0be3"/>
<circle cx="85.4" cy="904.8" r="2.9" fill="#0b0be3"/>
<circle cx="85.8" cy="932.8" r="2.9" fill="#0b0be3"/>
<circle cx="87.5" cy="935.8" r="2.9" fill="#0b0be3"/>
<circle cx="114.0" cy="972.2" r="2.9" fill="#0b0be3"/>
<circle cx="69.1" cy="964.4" r="2.9" fill="#f6d11a"/>
<circle cx="68.5" cy="967.5" r="2.9" fill="#f6d11a"/>
<circle cx="70.0" cy="969.5" r="2.9" fill="#f6d11a"/>
<circle cx="96.7" cy="905.2" r="2.9" fill="#f6d11a"/>
<circle cx="96.5" cy="950.1" r="2.9" fill="#f6d11a"/>
<circle cx="98.5" cy="953.2" r="2.9" fill="#f6d11a"/>
</g>
<line x1="49.1" y1="973.4" x2="135.5" y2="973.4" stroke="#222" stroke-width="1.2"/>
<line x1="69.5" y1="964.4" x2="69.5" y2="972" stroke="#555" stroke-width="0.8"/>
<line x1="67.2" y1="964.4" x2="71.8" y2="964.4" stroke="#555" stroke-width="0.8"/>
<path d="M64.4,853.6 L64.4,847.5 L91.6,847.5 L91.6,884.7" stroke="#333" stroke-width="0.9" fill="none"/>
<text x="64.2" y="842.0" font-size="7.8" fill="#222"><tspan font-style="italic">P</tspan><tspan font-size="4.6" font-style="italic" dy="1.5">adj</tspan><tspan dy="-1.5"> = 6.44 x 10</tspan><tspan font-size="4.6" dy="-3.4">-3</tspan></text>
<text transform="translate(61.9,982.6) rotate(-32)" text-anchor="end" font-size="6.9" fill="#222">Pre</text>
<text transform="translate(73.9,983.6) rotate(-32)" text-anchor="end" font-size="6.9" fill="#222">Post</text>
<text transform="translate(90.5,982.6) rotate(-32)" text-anchor="end" font-size="6.9" fill="#222">Pre</text>
<text transform="translate(102.6,983.6) rotate(-32)" text-anchor="end" font-size="6.9" fill="#222">Post</text>
<text transform="translate(118.2,982.0) rotate(-32)" text-anchor="end" font-size="6.9" fill="#222">HC</text>
<path d="M59.3,991.7 L59.3,997.4 L70.9,997.4 L70.9,991.7" stroke="#333" stroke-width="0.9" fill="none"/>
<path d="M88.3,991.7 L88.3,997.4 L99.7,997.4 L99.7,991.7" stroke="#333" stroke-width="0.9" fill="none"/>
<text transform="translate(69.6,1006.6) rotate(-30)" text-anchor="end" font-size="8.1" fill="#222">CR (<tspan font-style="italic">n</tspan> = 3)</text>
<text transform="translate(99.0,1006.6) rotate(-30)" text-anchor="end" font-size="8.1" fill="#222">PR (<tspan font-style="italic">n</tspan> = 3)</text>
<line x1="196.7" y1="973.4" x2="415.4" y2="761.5" stroke="#b4b4b4" stroke-width="1.0"/>
<path d="M206.0,963.8 L206.0,853.3 L212.9,853.3 L212.9,839.5 L226.6,839.5 L226.6,825.7 L233.5,825.7 L233.5,811.8 L254.1,811.8 L254.1,798.0 L261.0,798.0 L261.0,784.2 L295.3,784.2 L295.3,770.4 L405.2,770.4" stroke="#a6cee3" stroke-width="1.85" fill="none" stroke-linejoin="miter"/>
<path d="M206.0,963.8 L206.0,784.2 L226.6,784.2 L226.6,770.4 L405.2,770.4" stroke="#1f78b4" stroke-width="1.85" fill="none" stroke-dasharray="12,9" stroke-linejoin="miter"/>
<path d="M206.0,963.8 L206.0,867.1 L212.9,867.1 L212.9,853.3 L219.7,853.3 L219.7,839.5 L226.6,839.5 L226.6,825.7 L261.0,825.7 L261.0,811.8 L274.7,811.8 L274.7,798.0 L302.2,798.0 L302.2,784.2 L343.4,784.2 L343.4,770.4 L405.2,770.4" stroke="#b2df8a" stroke-width="1.85" fill="none" stroke-dasharray="9,6" stroke-linejoin="miter"/>
<path d="M206.0,963.8 L206.0,784.2 L233.5,784.2 L233.5,770.4 L405.2,770.4" stroke="#33a02c" stroke-width="1.85" fill="none" stroke-dasharray="11,8" stroke-linejoin="miter"/>
<path d="M206.0,963.8 L206.0,811.8 L219.7,811.8 L219.7,798.0 L261.0,798.0 L261.0,784.2 L405.2,770.4" stroke="#fb9a99" stroke-width="1.85" fill="none" stroke-dasharray="3,5" stroke-linejoin="miter"/>
<path d="M206.0,963.8 L206.0,784.2 L219.7,784.2 L405.2,770.4" stroke="#e31a1c" stroke-width="1.85" fill="none" stroke-dasharray="3,13" stroke-linejoin="miter"/>
<path d="M206.0,963.8 L206.0,825.7 L405.2,770.4" stroke="#fdbf6f" stroke-width="1.85" fill="none" stroke-dasharray="14,7" stroke-linejoin="miter"/>
<path d="M206.0,963.8 L206.0,798.0 L212.9,798.0 L212.9,784.2 L315.9,784.2 L315.9,770.4 L405.2,770.4" stroke="#ff7f00" stroke-width="1.85" fill="none" stroke-dasharray="7,9" stroke-linejoin="miter"/>
<line x1="196.7" y1="761.0" x2="196.7" y2="974.0" stroke="#111" stroke-width="1.3"/>
<line x1="196.1" y1="973.4" x2="415.4" y2="973.4" stroke="#111" stroke-width="1.3"/>
<line x1="193.6" y1="963.8" x2="196.7" y2="963.8" stroke="#333" stroke-width="0.8"/>
<text x="193.2" y="966.6999999999999" font-size="8.2" text-anchor="end" fill="#333" textLength="15.2" lengthAdjust="spacingAndGlyphs">0.00</text>
<line x1="206.0" y1="973.4" x2="206.0" y2="976.4" stroke="#333" stroke-width="0.8"/>
<text x="206.0" y="982.7" font-size="8.2" text-anchor="middle" fill="#333" textLength="15.2" lengthAdjust="spacingAndGlyphs">0.00</text>
<line x1="193.6" y1="915.4499999999999" x2="196.7" y2="915.4499999999999" stroke="#333" stroke-width="0.8"/>
<text x="193.2" y="918.3499999999999" font-size="8.2" text-anchor="end" fill="#333" textLength="15.2" lengthAdjust="spacingAndGlyphs">0.25</text>
<line x1="255.8" y1="973.4" x2="255.8" y2="976.4" stroke="#333" stroke-width="0.8"/>
<text x="255.8" y="982.7" font-size="8.2" text-anchor="middle" fill="#333" textLength="15.2" lengthAdjust="spacingAndGlyphs">0.25</text>
<line x1="193.6" y1="867.0999999999999" x2="196.7" y2="867.0999999999999" stroke="#333" stroke-width="0.8"/>
<text x="193.2" y="869.9999999999999" font-size="8.2" text-anchor="end" fill="#333" textLength="15.2" lengthAdjust="spacingAndGlyphs">0.50</text>
<line x1="305.6" y1="973.4" x2="305.6" y2="976.4" stroke="#333" stroke-width="0.8"/>
<text x="305.6" y="982.7" font-size="8.2" text-anchor="middle" fill="#333" textLength="15.2" lengthAdjust="spacingAndGlyphs">0.50</text>
<line x1="193.6" y1="818.75" x2="196.7" y2="818.75" stroke="#333" stroke-width="0.8"/>
<text x="193.2" y="821.65" font-size="8.2" text-anchor="end" fill="#333" textLength="15.2" lengthAdjust="spacingAndGlyphs">0.75</text>
<line x1="355.4" y1="973.4" x2="355.4" y2="976.4" stroke="#333" stroke-width="0.8"/>
<text x="355.4" y="982.7" font-size="8.2" text-anchor="middle" fill="#333" textLength="15.2" lengthAdjust="spacingAndGlyphs">0.75</text>
<line x1="193.6" y1="770.4" x2="196.7" y2="770.4" stroke="#333" stroke-width="0.8"/>
<text x="193.2" y="773.3" font-size="8.2" text-anchor="end" fill="#333" textLength="15.2" lengthAdjust="spacingAndGlyphs">1.00</text>
<line x1="405.2" y1="973.4" x2="405.2" y2="976.4" stroke="#333" stroke-width="0.8"/>
<text x="405.2" y="982.7" font-size="8.2" text-anchor="middle" fill="#333" textLength="15.2" lengthAdjust="spacingAndGlyphs">1.00</text>
<text transform="translate(176.0,867.4) rotate(-90)" text-anchor="middle" font-size="10" fill="#222">sensitivity</text>
<text x="305.8" y="993.0" font-size="10" text-anchor="middle" fill="#222">1 - specificity</text>
<line x1="438.6" y1="763.2" x2="445.9" y2="763.2" stroke="#a6cee3" stroke-width="1.7"/>
<text x="452.4" y="765.8000000000001" font-size="7.2" font-style="italic" fill="#222">ENTHD1</text>
<line x1="438.6" y1="771.9200000000001" x2="445.9" y2="771.9200000000001" stroke="#1f78b4" stroke-width="1.7"/>
<text x="452.4" y="774.5200000000001" font-size="7.2" font-style="italic" fill="#222">LINC02154</text>
<line x1="438.6" y1="780.6400000000001" x2="445.9" y2="780.6400000000001" stroke="#b2df8a" stroke-width="1.7"/>
<text x="452.4" y="783.2400000000001" font-size="7.2" font-style="italic" fill="#222">THE1B/DNAJC5B.1</text>
<line x1="438.6" y1="789.36" x2="445.9" y2="789.36" stroke="#33a02c" stroke-width="1.7"/>
<text x="452.4" y="791.96" font-size="7.2" font-style="italic" fill="#222">THE1B/ENSG00000259760.1</text>
<line x1="438.6" y1="798.08" x2="443.0" y2="798.08" stroke="#fb9a99" stroke-width="1.7"/>
<text x="452.4" y="800.6800000000001" font-size="7.2" font-style="italic" fill="#222">LOC107984475</text>
<line x1="438.6" y1="806.8000000000001" x2="443.0" y2="806.8000000000001" stroke="#e31a1c" stroke-width="1.7"/>
<text x="452.4" y="809.4000000000001" font-size="7.2" font-style="italic" fill="#222">THE1B/ENSG00000259760.2</text>
<line x1="438.6" y1="815.5200000000001" x2="445.9" y2="815.5200000000001" stroke="#fdbf6f" stroke-width="1.7"/>
<text x="452.4" y="818.1200000000001" font-size="7.2" font-style="italic" fill="#222">SMFT4</text>
<line x1="438.6" y1="824.24" x2="445.9" y2="824.24" stroke="#ff7f00" stroke-width="1.7"/>
<text x="452.4" y="826.84" font-size="7.2" font-style="italic" fill="#222">THE1B/CIR1</text>
<text x="439.3" y="874.2" font-size="7.1" fill="#222">Receiver operating characteristics–area under the curve (ROC-AUC) scores</text>
<line x1="438" y1="878.3" x2="654.8" y2="878.3" stroke="#222" stroke-width="1.3"/>
<text x="439.6" y="886.1" font-size="6.3" fill="#222">THE1B fusion transcripts</text>
<text x="553.5" y="886.1" font-size="6.3" fill="#222">AUC</text>
<text x="592.9" y="886.1" font-size="6.3" fill="#222">95% CI (DeLong)</text>
<line x1="438" y1="888.7" x2="654.8" y2="888.7" stroke="#222" stroke-width="0.7"/>
<text x="439.6" y="896.6" font-size="6.3" font-style="italic" fill="#222">LINC02154</text>
<text x="553.5" y="896.6" font-size="6.3" fill="#222">0.993</text>
<text x="592.9" y="896.6" font-size="6.3" fill="#222">0.976-1</text>
<text x="439.6" y="907.0" font-size="6.3" font-style="italic" fill="#222">THE1B/ENSG00000259760.1</text>
<text x="553.5" y="907.0" font-size="6.3" fill="#222">0.990</text>
<text x="592.9" y="907.0" font-size="6.3" fill="#222">0.969-1</text>
<text x="439.6" y="917.4" font-size="6.3" font-style="italic" fill="#222">THE1B/ENSG00000259760.2</text>
<text x="553.5" y="917.4" font-size="6.3" fill="#222">0.964</text>
<text x="592.9" y="917.4" font-size="6.3" fill="#222">0.894-1</text>
<text x="439.6" y="927.8000000000001" font-size="6.3" font-style="italic" fill="#222">THE1B/CIR1</text>
<text x="553.5" y="927.8000000000001" font-size="6.3" fill="#222">0.958</text>
<text x="592.9" y="927.8000000000001" font-size="6.3" fill="#222">0.880-1</text>
<text x="439.6" y="938.2" font-size="6.3" font-style="italic" fill="#222">LOC107984475</text>
<text x="553.5" y="938.2" font-size="6.3" fill="#222">0.936</text>
<text x="592.9" y="938.2" font-size="6.3" fill="#222">0.845-1</text>
<text x="439.6" y="948.6" font-size="6.3" font-style="italic" fill="#222">ENTHD1</text>
<text x="553.5" y="948.6" font-size="6.3" fill="#222">0.911</text>
<text x="592.9" y="948.6" font-size="6.3" fill="#222">0.824-0.999</text>
<text x="439.6" y="959.0" font-size="6.3" font-style="italic" fill="#222">DNAJC5B.1</text>
<text x="553.5" y="959.0" font-size="6.3" fill="#222">0.857</text>
<text x="592.9" y="959.0" font-size="6.3" fill="#222">0.730-0.984</text>
<text x="439.6" y="969.4" font-size="6.3" font-style="italic" fill="#222">SMFT4</text>
<text x="553.5" y="969.4" font-size="6.3" fill="#222">0.857</text>
<text x="592.9" y="969.4" font-size="6.3" fill="#222">0.734-0.980</text>
<line x1="438" y1="973.0" x2="654.8" y2="973.0" stroke="#222" stroke-width="1.3"/>
</svg>
</body></html>
